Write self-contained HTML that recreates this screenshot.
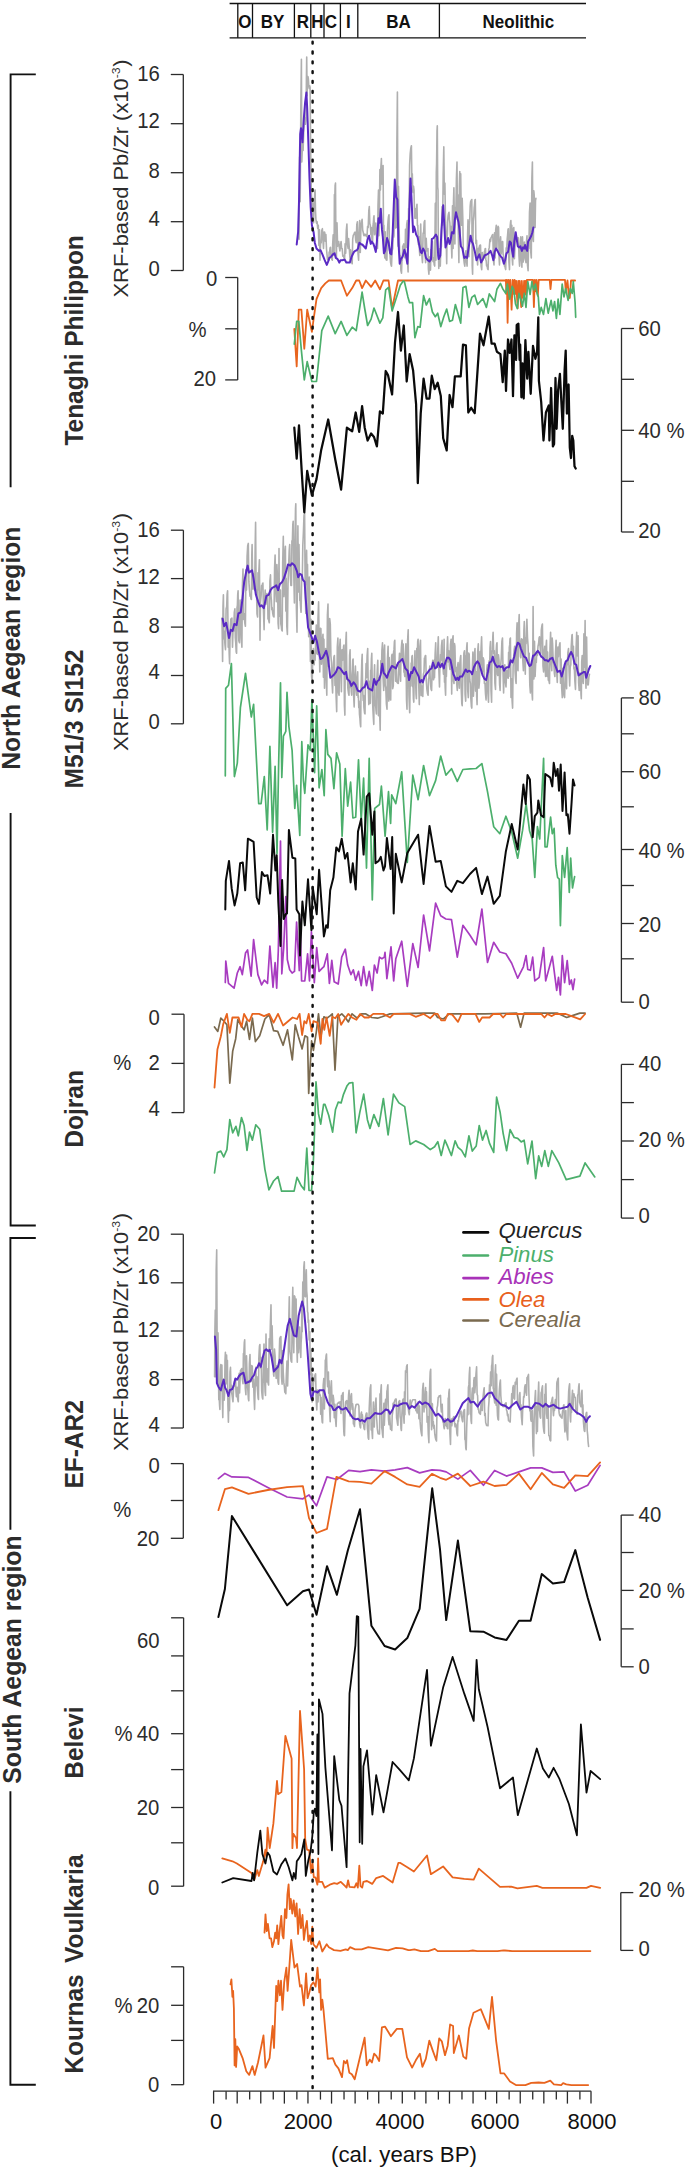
<!DOCTYPE html>
<html><head><meta charset="utf-8"><style>
html,body{margin:0;padding:0;background:#fff;}
svg{display:block;}
text{font-family:"Liberation Sans",sans-serif;}
</style></head><body>
<svg width="685" height="2169" viewBox="0 0 685 2169" font-family="Liberation Sans, sans-serif">
<rect width="685" height="2169" fill="#fff"/>
<polyline points="298.4,236.9 299.0,239.2 299.6,157.0 300.2,201.8 300.8,109.9 301.4,59.3 301.8,161.9 302.3,149.3 302.7,150.0 303.1,150.4 303.7,131.8 304.3,121.1 304.9,117.7 305.4,124.3 306.0,120.1 306.4,81.1 306.7,57.0 307.1,95.8 307.4,85.0 307.9,76.5 308.4,79.2 308.8,86.0 309.3,88.5 309.7,85.8 310.1,87.4 310.7,154.8 311.3,190.1 311.9,208.2 312.4,201.8 313.0,219.7 313.6,222.8 314.0,203.5 314.4,202.0 314.8,192.0 315.1,190.1 315.5,210.8 315.9,219.3 316.5,223.2 317.1,221.7 317.7,228.4 318.3,225.2 318.9,245.4 319.5,229.9 320.0,260.2 320.6,241.5 321.2,242.7 321.8,230.2 322.4,228.7 323.0,240.9 323.5,248.5 324.1,232.0 324.7,232.2 325.3,241.2 325.9,234.5 326.5,249.0 327.0,254.4 327.5,259.4 327.9,258.1 328.4,259.6 328.8,260.2 329.2,252.1 329.7,251.3 330.1,247.8 330.5,247.4 331.0,257.5 331.4,258.2 331.9,259.5 332.3,260.2 332.7,244.0 333.2,234.8 333.6,249.6 334.1,255.5 334.4,194.5 334.8,199.5 335.1,185.7 335.5,183.1 335.9,242.3 336.4,257.9 337.0,222.9 337.6,246.2 338.1,242.6 338.7,241.5 339.3,247.3 339.9,250.9 340.5,245.1 341.1,241.5 341.6,248.4 342.2,248.5 342.8,256.3 343.4,255.5 344.0,258.1 344.6,259.1 345.1,243.7 345.7,253.2 346.3,230.6 346.9,224.0 347.5,244.3 348.1,248.5 348.6,238.5 349.2,246.2 349.7,254.8 350.1,259.6 350.5,249.7 351.0,255.5 351.6,262.2 352.2,263.7 352.7,239.2 353.3,235.2 353.9,234.5 354.5,232.7 355.1,232.2 355.7,240.2 356.2,242.7 356.8,224.6 357.4,221.7 358.0,253.2 358.6,260.2 359.2,233.0 359.7,220.5 360.3,252.5 360.9,227.5 361.5,222.3 362.1,219.3 362.7,230.2 363.2,232.2 363.7,235.1 364.1,235.7 364.5,234.4 365.0,234.3 365.4,235.5 365.8,234.5 366.4,236.3 367.0,236.9 367.6,226.4 368.2,227.5 368.8,210.7 369.3,206.5 369.8,223.5 370.3,225.2 370.9,234.6 371.4,227.5 372.0,239.6 372.6,241.5 373.0,225.7 373.3,223.7 373.7,217.7 374.0,215.8 374.6,234.8 375.2,232.2 375.8,223.1 376.4,232.2 376.9,244.8 377.5,248.5 378.0,205.5 378.5,190.1 378.9,235.7 379.3,220.5 379.9,169.5 380.4,190.1 380.9,166.7 381.4,158.6 381.8,182.6 382.2,184.3 382.7,171.1 383.1,165.6 383.5,234.2 383.9,225.2 384.4,251.2 384.8,257.9 385.2,231.9 385.7,257.9 386.3,259.9 386.9,260.2 387.4,231.2 388.0,221.7 388.5,216.7 389.0,214.7 389.4,250.2 389.8,248.5 390.2,257.8 390.6,262.6 391.1,265.1 391.5,266.1 392.1,251.2 392.7,248.5 393.3,229.8 393.9,236.9 394.5,210.9 395.0,194.8 395.4,216.1 395.7,228.1 396.1,209.7 396.4,227.5 396.9,141.0 397.4,92.0 398.0,246.2 398.5,186.4 399.1,227.5 399.7,255.2 400.3,255.5 400.9,270.6 401.5,273.1 401.9,261.0 402.3,260.2 402.7,246.1 403.0,248.2 403.4,244.8 403.8,243.9 404.4,255.8 405.0,257.9 405.5,229.2 406.1,247.4 406.7,224.7 407.3,220.5 407.7,264.7 408.1,271.9 408.6,208.6 409.1,208.8 409.6,165.4 410.2,153.9 410.8,148.2 411.4,145.8 411.9,183.7 412.3,173.8 412.7,190.4 413.1,192.5 413.5,186.2 414.0,190.1 414.4,208.4 414.9,218.2 415.4,208.7 415.8,218.2 416.4,208.8 417.0,204.2 417.4,225.6 417.8,225.2 418.4,244.6 419.0,236.9 419.4,249.5 419.8,255.5 420.3,236.6 420.7,224.0 421.2,248.1 421.7,248.5 422.1,258.5 422.5,262.6 423.1,233.1 423.6,233.4 424.2,222.0 424.8,220.5 425.2,254.4 425.6,262.6 426.2,238.3 426.8,250.9 427.4,249.0 428.0,248.5 428.4,269.2 428.9,274.2 429.4,261.5 429.8,256.7 430.2,266.9 430.5,270.1 430.9,249.6 431.2,260.2 431.8,244.6 432.4,241.5 433.0,261.6 433.6,257.9 434.2,264.7 434.7,266.1 435.3,203.4 435.9,260.2 436.3,172.3 436.6,163.6 437.0,131.1 437.3,125.9 437.7,187.0 438.0,190.1 438.4,252.0 438.8,268.4 439.2,251.9 439.5,248.9 439.9,261.1 440.3,266.1 440.8,248.7 441.4,246.2 442.0,206.8 442.6,225.2 443.2,174.4 443.8,146.9 444.3,194.1 444.9,183.1 445.5,222.4 446.1,236.9 446.7,263.7 447.0,237.4 447.4,234.3 447.7,220.7 448.1,215.8 448.5,213.6 449.0,212.3 449.5,219.9 449.9,222.8 450.4,238.5 450.8,226.4 451.4,245.5 451.9,257.9 452.5,205.8 453.1,248.5 453.5,200.9 453.9,187.8 454.4,225.3 454.9,243.9 455.3,207.2 455.8,219.3 456.4,179.0 457.0,162.1 457.4,213.7 457.8,194.8 458.4,238.0 458.9,262.6 459.4,184.7 459.8,171.5 460.2,244.2 460.7,173.8 461.2,211.8 461.6,225.2 462.2,198.2 462.8,218.2 463.2,245.1 463.6,257.9 464.2,263.0 464.8,266.1 465.4,255.4 465.9,250.9 466.5,261.2 467.1,266.1 467.6,235.0 468.0,219.9 468.4,253.6 468.9,256.7 469.3,225.5 469.7,220.4 470.2,206.3 470.6,201.8 471.2,200.4 471.8,199.5 472.2,265.7 472.6,274.2 473.2,221.5 473.8,215.8 474.2,207.5 474.5,205.3 474.9,200.2 475.3,199.5 475.9,243.6 476.5,240.4 477.0,255.3 477.6,264.9 478.0,253.2 478.4,248.3 478.8,256.2 479.1,248.5 479.5,245.9 479.8,245.4 480.2,245.1 480.5,245.0 481.1,266.1 481.7,269.6 482.3,252.6 482.9,260.2 483.5,255.3 484.1,257.9 484.4,251.8 484.8,251.2 485.1,248.9 485.5,248.5 485.8,259.7 486.2,260.6 486.6,265.9 487.0,264.9 487.6,268.8 488.1,269.6 488.7,249.7 489.3,247.4 489.9,239.4 490.5,241.5 491.1,237.3 491.6,236.9 492.2,235.3 492.8,234.5 493.4,260.1 494.0,264.9 494.6,232.8 495.1,257.9 495.7,229.9 496.3,225.2 496.9,248.3 497.5,229.9 498.1,226.3 498.6,227.5 499.1,258.2 499.5,264.9 500.1,243.0 500.6,236.9 501.2,254.0 501.8,248.5 502.3,241.7 502.7,241.5 503.1,254.4 503.4,254.9 503.8,259.3 504.1,260.2 504.5,266.1 504.9,265.9 505.3,268.3 505.7,269.6 506.2,247.9 506.8,248.5 507.2,239.2 507.6,235.1 508.0,229.7 508.3,228.7 508.9,261.7 509.5,269.6 509.9,239.5 510.2,226.1 510.6,221.9 510.9,220.5 511.4,244.7 511.8,225.2 512.3,260.2 512.7,264.9 513.2,229.5 513.8,227.5 514.4,258.8 514.9,248.5 515.5,236.0 516.1,235.7 516.7,241.1 517.3,239.2 517.8,237.6 518.4,238.0 519.0,256.5 519.6,266.1 520.2,246.8 520.8,236.9 521.4,260.8 521.9,267.2 522.5,236.9 523.1,262.1 523.7,257.9 524.3,242.0 524.9,250.9 525.4,259.6 526.0,262.6 526.5,241.2 527.0,235.7 527.5,265.1 528.1,270.7 528.5,245.4 528.9,248.5 529.5,212.2 530.1,203.0 530.7,250.9 531.3,257.9 531.9,177.9 532.4,162.1 532.9,238.3 533.4,241.5 533.8,190.9 534.2,194.8 534.7,220.5 535.1,227.5 535.5,200.7 535.9,198.3" fill="none" stroke="#afafaf" stroke-width="1.6" stroke-linejoin="round" stroke-linecap="round"/>
<polyline points="222.0,618.1 222.6,661.4 223.0,606.9 223.4,594.8 223.9,638.8 224.3,631.0 224.9,644.0 225.5,649.7 226.1,609.0 226.7,606.5 227.1,594.4 227.6,590.7 228.2,647.2 228.8,636.8 229.2,653.8 229.6,663.7 230.2,629.0 230.8,619.3 231.4,618.5 231.9,618.1 232.5,647.3 233.1,628.0 233.7,631.0 234.3,612.5 234.9,608.8 235.3,637.6 235.7,642.2 236.2,652.1 236.6,653.2 237.0,607.9 237.4,605.2 237.7,594.9 238.1,590.7 238.5,628.0 238.8,640.6 239.2,642.0 239.5,642.7 240.1,600.1 240.7,613.5 241.3,638.3 241.9,647.3 242.4,586.0 243.0,569.1 243.6,619.5 244.2,613.5 244.8,623.1 245.4,626.3 245.9,569.7 246.5,590.1 247.1,556.4 247.7,545.7 248.3,543.4 248.9,581.9 249.5,590.1 250.0,596.2 250.6,595.9 251.0,599.0 251.4,599.5 251.8,555.0 252.1,544.6 252.5,571.9 252.8,589.0 253.2,573.5 253.5,578.4 254.1,588.7 254.7,590.1 255.2,544.2 255.6,522.4 256.1,588.8 256.5,590.1 257.0,613.8 257.6,617.0 258.0,572.7 258.4,590.1 258.9,570.6 259.4,559.7 260.0,640.3 260.5,602.2 261.1,595.9 261.6,585.5 262.0,586.5 262.4,584.2 262.9,583.1 263.5,612.1 264.1,629.8 264.6,600.7 265.2,590.1 265.8,604.2 266.4,601.8 267.0,593.6 267.6,595.9 268.0,619.1 268.4,618.4 268.9,621.4 269.3,622.8 269.9,581.2 270.5,574.9 270.9,594.9 271.4,600.5 271.8,609.7 272.2,607.6 272.7,613.2 273.1,615.2 273.5,616.5 274.0,617.0 274.6,567.6 275.1,555.1 275.7,589.4 276.3,601.8 276.9,564.5 277.5,578.4 278.1,623.1 278.6,628.6 279.0,548.6 279.4,615.2 279.7,589.8 280.1,616.5 280.4,590.1 280.8,623.9 281.3,626.3 281.7,630.0 282.2,631.0 282.7,562.9 283.3,536.4 283.9,596.6 284.5,590.1 284.9,551.8 285.4,546.3 285.8,611.1 286.2,578.4 286.8,626.1 287.4,634.5 288.0,584.0 288.6,566.8 289.2,550.6 289.7,544.6 290.3,575.4 290.9,585.4 291.5,585.4 291.9,540.8 292.4,540.4 292.8,524.7 293.2,521.2 293.8,575.1 294.4,603.0 294.8,553.6 295.1,533.9 295.5,509.1 295.8,503.7 296.4,608.6 297.0,632.2 297.5,563.1 297.9,525.9 298.3,574.5 298.6,592.0 299.0,544.5 299.3,566.8 299.8,600.4 300.2,600.1 300.7,608.5 301.1,612.3 301.7,578.0 302.3,578.4 302.8,545.8 303.4,532.7 304.0,515.4 304.6,513.0 305.2,592.1 305.8,613.5 306.2,573.2 306.6,550.4 307.1,584.5 307.5,564.4 308.1,609.3 308.7,636.8 309.3,577.1 309.9,613.5 310.4,661.6 311.0,619.3 311.6,676.6 312.2,683.5 312.8,653.7 313.4,648.5 313.8,660.0 314.2,664.8 314.7,653.5 315.1,660.2 315.7,638.7 316.3,625.1 316.9,653.4 317.4,654.3 318.0,618.5 318.6,601.8 319.2,646.6 319.8,671.9 320.4,628.3 320.9,628.6 321.5,664.2 322.1,654.3 322.6,637.8 323.0,634.2 323.4,677.2 323.9,639.2 324.5,688.2 325.0,658.0 325.6,648.5 326.2,678.6 326.8,695.2 327.4,615.4 328.0,604.1 328.5,666.4 329.1,660.2 329.7,618.5 330.3,624.0 330.9,655.8 331.5,662.5 332.0,681.3 332.6,692.9 333.1,669.9 333.5,662.7 333.9,657.0 334.4,655.5 335.0,685.5 335.5,671.9 336.1,696.5 336.7,711.6 337.3,646.7 337.9,638.0 338.5,692.7 339.1,695.2 339.6,647.3 340.2,639.2 340.8,672.9 341.4,691.7 342.0,649.7 342.6,660.2 342.9,651.5 343.3,650.8 343.6,646.3 344.0,645.0 344.4,705.2 344.9,715.1 345.2,661.7 345.6,654.0 345.9,639.8 346.3,632.2 346.9,679.2 347.5,677.7 347.8,687.6 348.2,691.1 348.6,693.8 349.0,695.2 349.6,655.2 350.1,649.7 350.5,687.5 350.9,680.7 351.3,691.6 351.7,695.2 352.0,674.6 352.4,669.5 352.7,660.4 353.1,659.0 353.6,695.3 354.2,706.9 354.8,677.0 355.4,666.0 356.0,687.6 356.6,695.2 357.2,678.3 357.7,671.9 358.1,697.6 358.4,695.7 358.8,707.6 359.1,701.1 359.5,714.4 359.9,718.0 360.3,723.8 360.7,726.8 361.0,689.6 361.4,676.5 361.8,660.9 362.2,654.3 362.5,679.8 362.9,694.7 363.2,700.4 363.6,695.2 363.9,706.8 364.3,710.7 364.6,713.2 365.0,713.9 365.4,682.6 365.7,678.1 366.1,663.5 366.5,677.7 367.1,655.8 367.7,648.5 368.2,685.1 368.8,704.6 369.2,687.7 369.5,681.3 369.9,697.8 370.3,703.4 370.6,670.2 371.0,673.0 371.4,658.9 371.8,653.2 372.4,696.3 372.9,709.2 373.4,718.4 373.8,724.4 374.2,675.6 374.6,664.9 375.0,705.5 375.5,703.4 376.0,710.3 376.4,713.9 376.8,680.4 377.1,674.0 377.5,665.5 377.8,660.2 378.4,715.6 379.0,677.7 379.6,710.9 380.2,730.3 380.8,660.7 381.4,671.9 381.9,650.6 382.5,642.7 383.1,678.5 383.7,690.5 384.2,650.2 384.6,645.0 385.2,685.2 385.8,688.2 386.4,704.0 387.0,709.2 387.5,658.4 388.1,646.2 388.5,683.7 388.8,701.1 389.2,657.6 389.5,695.2 390.1,698.5 390.7,699.9 391.0,673.3 391.4,661.2 391.7,656.0 392.1,654.3 392.7,688.7 393.3,685.9 393.6,652.0 394.0,649.9 394.4,641.7 394.8,640.3 395.2,671.9 395.6,681.2 396.2,664.5 396.8,681.2 397.1,682.5 397.5,682.6 397.9,683.3 398.3,683.5 398.9,664.1 399.5,653.2 400.0,671.2 400.6,681.2 401.0,656.0 401.4,647.6 401.8,642.4 402.1,640.3 402.5,654.3 402.8,659.3 403.2,644.1 403.5,654.3 403.9,672.2 404.2,668.7 404.6,675.5 404.9,676.5 405.4,656.1 405.9,643.8 406.5,699.6 407.0,709.2 407.6,640.8 408.2,629.8 408.6,673.6 409.0,696.2 409.4,706.3 409.7,712.7 410.3,673.7 410.9,685.9 411.2,663.1 411.6,665.5 411.9,656.8 412.3,655.5 412.7,686.4 413.1,687.6 413.4,699.0 413.8,702.2 414.4,664.3 415.0,650.8 415.3,673.2 415.7,682.9 416.0,694.2 416.4,698.7 416.8,648.4 417.3,655.0 417.7,641.6 418.1,639.2 418.7,683.6 419.3,704.6 419.9,646.6 420.5,640.3 421.1,695.6 421.6,685.9 422.2,693.9 422.8,696.4 423.4,674.2 424.0,671.9 424.4,658.1 424.9,657.3 425.3,655.7 425.7,655.5 426.3,681.2 426.9,689.4 427.5,693.5 428.1,695.2 428.5,679.3 428.9,677.7 429.4,670.3 429.8,666.0 430.3,680.1 430.7,685.5 431.1,689.3 431.6,690.5 432.2,668.0 432.7,660.2 433.2,676.0 433.6,679.8 434.1,660.2 434.5,677.7 435.1,654.6 435.7,642.7 436.0,662.5 436.4,666.4 436.8,667.0 437.2,667.2 437.8,648.9 438.3,636.8 438.9,670.9 439.5,687.0 439.9,665.5 440.2,664.3 440.6,654.5 440.9,660.2 441.5,645.9 442.1,640.3 442.4,663.2 442.8,661.1 443.1,669.1 443.5,674.2 444.1,639.2 444.5,682.3 444.8,673.2 445.2,687.9 445.6,695.2 446.0,667.1 446.4,676.5 447.0,649.9 447.6,636.8 448.2,661.9 448.8,650.8 449.3,665.0 449.9,669.5 450.5,644.5 451.1,639.2 451.7,694.1 452.0,644.4 452.4,647.5 452.7,638.1 453.1,635.7 453.5,681.3 454.0,683.5 454.5,643.6 454.9,646.2 455.5,671.4 456.1,667.2 456.7,683.5 457.3,690.5 457.7,665.4 458.1,662.5 458.7,679.8 459.3,688.2 459.6,667.5 460.0,661.5 460.4,657.7 460.8,655.5 461.1,686.1 461.5,695.3 461.8,703.6 462.2,705.7 462.8,678.4 463.4,667.2 463.9,653.3 464.5,650.8 465.1,694.4 465.7,701.1 466.0,656.1 466.4,655.0 466.7,647.2 467.1,642.7 467.7,689.9 468.3,697.6 468.7,653.1 469.2,654.3 469.8,680.0 470.4,683.5 470.7,696.5 471.1,702.1 471.4,706.6 471.8,708.1 472.4,665.9 472.9,652.0 473.4,696.2 473.9,684.7 474.5,654.2 475.0,648.5 475.6,691.1 476.2,671.9 476.7,697.2 477.1,704.6 477.7,651.9 478.3,643.8 478.9,688.2 479.5,681.2 480.1,651.6 480.6,669.5 481.1,647.6 481.6,636.8 482.1,658.2 482.6,671.9 483.2,657.9 483.8,660.2 484.4,683.5 485.0,683.5 485.5,693.9 486.1,699.9 486.7,670.1 487.3,664.9 487.9,693.5 488.5,702.2 489.1,660.8 489.6,671.9 490.0,647.9 490.5,641.5 491.0,690.3 491.6,702.2 492.0,651.9 492.4,649.9 492.8,637.2 493.1,632.2 493.7,653.8 494.3,650.8 494.9,683.2 495.5,689.4 495.9,660.9 496.2,650.9 496.6,644.5 497.0,642.7 497.4,674.3 497.8,675.4 498.4,654.7 499.0,660.2 499.6,684.4 500.1,690.5 500.7,665.5 501.3,657.8 501.9,641.5 502.5,638.0 503.1,675.1 503.6,692.9 504.2,668.9 504.8,664.9 505.4,682.0 506.0,687.0 506.4,676.9 506.7,670.1 507.1,677.1 507.5,671.9 507.9,676.7 508.2,678.3 508.6,652.2 508.9,676.5 509.3,647.4 509.7,644.9 510.0,638.9 510.4,638.0 511.0,697.4 511.6,678.9 512.1,700.7 512.6,708.1 513.1,667.5 513.6,659.0 514.2,649.5 514.7,646.2 515.1,672.0 515.4,676.3 515.8,681.1 516.1,683.5 516.6,633.1 517.1,622.8 517.5,667.7 518.0,670.7 518.6,626.2 519.2,614.6 519.6,639.5 520.0,644.7 520.4,656.4 520.8,657.8 521.2,642.3 521.5,638.7 521.9,647.2 522.2,639.2 522.8,660.5 523.4,670.7 523.9,630.3 524.3,621.6 524.8,658.0 525.3,674.2 525.7,637.5 526.1,643.8 526.5,629.0 526.9,619.3 527.5,637.6 528.1,646.2 528.7,665.3 529.2,653.2 529.8,685.0 530.4,692.9 531.0,664.4 531.6,671.9 532.1,694.4 532.5,699.9 533.1,606.5 533.5,664.1 533.9,678.9 534.5,641.4 535.1,676.5 535.7,662.8 536.3,662.5 536.8,651.7 537.4,655.5 538.0,646.2 538.6,643.8 539.1,637.7 539.5,636.8 539.9,644.6 540.2,647.6 540.6,651.8 540.9,653.2 541.3,630.4 541.7,627.1 542.1,624.8 542.4,624.0 543.0,666.2 543.6,671.9 544.2,651.6 544.8,646.2 545.2,668.6 545.6,676.5 546.1,645.9 546.5,640.3 546.9,664.8 547.2,676.5 547.6,652.0 547.9,662.5 548.3,680.3 548.7,678.0 549.1,681.7 549.5,683.5 550.0,648.6 550.6,632.2 551.2,661.9 551.8,670.7 552.2,638.0 552.6,643.8 553.2,661.2 553.8,663.7 554.4,673.6 554.9,676.5 555.5,653.3 556.1,640.3 556.7,672.2 557.3,682.4 557.9,647.0 558.4,656.7 558.8,650.1 559.2,647.7 559.6,644.2 560.0,642.7 560.5,683.2 561.1,659.0 561.7,688.0 562.3,697.6 562.9,668.2 563.5,689.4 564.1,696.0 564.6,697.6 565.2,674.1 565.8,662.5 566.2,681.5 566.6,688.7 566.9,662.1 567.3,664.9 567.9,652.7 568.5,648.5 569.1,671.2 569.7,685.9 570.2,667.1 570.8,664.9 571.2,647.4 571.5,642.2 571.9,635.7 572.2,634.5 572.8,653.0 573.4,646.2 573.9,669.1 574.3,667.2 574.9,681.4 575.5,689.4 576.1,649.1 576.7,632.2 577.0,651.7 577.4,656.0 577.7,638.9 578.1,635.7 578.6,682.4 579.2,690.5 579.6,678.9 579.9,673.0 580.3,689.9 580.6,674.2 581.0,694.4 581.3,698.7 581.7,661.9 582.2,655.5 582.7,677.5 583.3,683.5 583.9,633.9 584.5,667.2 585.1,620.5 585.5,675.6 586.0,688.2 586.6,637.1 587.2,681.2 587.8,684.9 588.3,684.7 588.9,677.2 589.5,674.2" fill="none" stroke="#afafaf" stroke-width="1.6" stroke-linejoin="round" stroke-linecap="round"/>
<polyline points="214.6,1376.7 214.9,1330.5 215.3,1310.0 215.7,1376.7 216.2,1269.4 216.7,1249.9 217.1,1339.5 217.6,1383.7 218.0,1332.9 218.4,1365.0 218.8,1399.8 219.2,1397.7 219.6,1405.8 219.9,1409.4 220.4,1369.6 220.8,1364.5 221.4,1391.0 221.9,1365.0 222.3,1399.5 222.8,1417.6 223.2,1387.2 223.7,1379.1 224.2,1400.3 224.6,1393.1 225.0,1360.4 225.4,1352.2 226.0,1384.0 226.6,1355.1 227.0,1376.3 227.4,1360.4 227.9,1404.8 228.4,1422.3 228.9,1398.0 229.5,1410.6 230.0,1372.0 230.5,1367.4 230.9,1386.0 231.3,1384.9 231.7,1392.8 232.1,1395.4 232.6,1399.4 233.0,1401.8 233.6,1387.4 234.2,1386.1 234.5,1381.3 234.9,1380.0 235.2,1379.3 235.6,1379.1 236.0,1391.7 236.4,1396.8 236.7,1388.5 237.1,1387.2 237.7,1399.2 238.3,1401.8 238.7,1382.5 239.2,1373.2 239.6,1392.9 240.0,1381.4 240.5,1370.4 240.9,1370.1 241.4,1369.1 241.8,1368.5 242.4,1379.1 243.0,1383.7 243.4,1353.5 243.8,1355.0 244.3,1342.5 244.7,1339.9 245.3,1388.3 245.9,1394.8 246.5,1355.7 247.0,1374.4 247.5,1386.5 247.9,1390.4 248.4,1399.1 248.8,1400.7 249.4,1363.8 250.0,1354.5 250.5,1381.9 251.1,1381.4 251.7,1365.6 252.3,1366.2 252.9,1387.3 253.5,1379.1 254.1,1398.8 254.6,1409.4 255.2,1384.2 255.8,1367.4 256.4,1385.8 257.0,1376.7 257.4,1388.7 257.7,1392.8 258.1,1398.0 258.5,1399.5 258.8,1359.0 259.2,1350.8 259.5,1345.9 259.9,1344.6 260.2,1360.7 260.6,1367.9 260.9,1357.2 261.3,1367.4 261.7,1391.0 262.1,1395.4 262.4,1398.0 262.8,1398.9 263.4,1362.6 264.0,1344.0 264.4,1382.3 264.7,1381.8 265.1,1391.8 265.5,1395.4 266.0,1334.1 266.5,1381.9 267.1,1368.5 267.5,1379.8 267.9,1382.4 268.3,1383.9 268.6,1384.9 269.2,1338.7 269.8,1349.9 270.4,1322.2 271.0,1304.9 271.4,1339.8 271.7,1349.4 272.1,1325.9 272.5,1343.5 272.9,1362.3 273.2,1366.7 273.6,1374.6 273.9,1376.2 274.5,1349.1 275.1,1356.3 275.7,1370.9 276.2,1378.5 276.8,1365.8 277.4,1366.8 278.0,1382.0 278.6,1384.3 279.2,1356.1 279.7,1338.8 280.3,1337.1 280.9,1336.5 281.5,1376.9 282.1,1384.3 282.7,1350.6 283.2,1371.5 283.8,1382.4 284.4,1386.7 284.8,1392.1 285.1,1391.0 285.5,1393.0 285.8,1393.7 286.4,1373.5 287.0,1361.0 287.6,1386.0 288.2,1364.5 288.8,1318.6 289.3,1296.8 289.9,1350.9 290.5,1355.1 291.1,1361.2 291.7,1362.2 292.3,1309.7 292.8,1287.4 293.3,1335.4 293.8,1352.8 294.4,1295.8 294.9,1296.8 295.5,1334.5 296.1,1299.1 296.7,1341.9 297.3,1362.2 297.9,1320.7 298.5,1352.8 299.0,1335.0 299.6,1327.1 300.2,1347.8 300.8,1357.5 301.1,1342.6 301.5,1337.3 301.8,1309.1 302.2,1331.8 302.8,1282.0 303.4,1308.4 303.8,1267.6 304.3,1261.7 304.9,1296.2 305.5,1296.8 305.9,1279.7 306.3,1269.8 306.7,1291.1 307.1,1295.6 307.5,1311.5 307.9,1313.0 308.2,1322.5 308.6,1320.1 309.2,1339.9 309.8,1331.8 310.2,1363.3 310.5,1374.8 310.9,1351.1 311.3,1366.8 311.7,1397.9 312.1,1401.9 312.5,1374.1 312.9,1396.0 313.5,1382.1 314.1,1380.8 314.5,1377.4 314.9,1376.1 315.2,1374.3 315.6,1373.8 316.2,1400.2 316.8,1410.0 317.4,1390.0 318.0,1401.9 318.5,1391.6 319.1,1390.2 319.7,1395.4 320.3,1394.9 320.7,1414.3 321.1,1397.2 321.5,1411.5 321.9,1418.3 322.2,1422.1 322.6,1422.9 323.2,1385.3 323.8,1378.5 324.4,1408.9 325.0,1384.3 325.3,1360.1 325.7,1360.6 326.1,1355.6 326.5,1354.0 327.1,1376.8 327.6,1386.7 328.0,1377.7 328.4,1372.1 328.7,1393.2 329.1,1380.8 329.6,1409.8 330.2,1421.7 330.8,1387.6 331.4,1380.8 332.0,1399.7 332.6,1404.2 333.1,1395.2 333.7,1399.5 334.3,1417.8 334.9,1404.2 335.5,1419.2 336.1,1426.4 336.6,1412.4 337.2,1404.2 337.7,1403.4 338.1,1403.2 338.5,1402.4 339.0,1403.0 339.6,1402.1 340.1,1401.9 340.6,1410.0 341.0,1413.5 341.5,1395.5 342.1,1399.5 342.6,1393.5 343.1,1392.5 343.4,1418.6 343.8,1431.3 344.1,1435.1 344.5,1435.7 345.1,1409.4 345.6,1401.9 346.2,1401.1 346.8,1400.7 347.4,1405.8 348.0,1408.9 348.6,1394.9 349.1,1390.2 349.6,1411.1 350.1,1415.9 350.4,1396.4 350.8,1397.9 351.1,1394.5 351.5,1393.7 351.9,1407.0 352.2,1409.4 352.6,1403.9 353.0,1407.7 353.4,1423.9 353.8,1421.2 354.1,1425.1 354.5,1426.4 355.1,1409.4 355.7,1406.5 356.0,1404.5 356.4,1404.7 356.7,1404.3 357.1,1404.2 357.7,1404.2 358.2,1404.2 358.9,1406.0 359.3,1419.1 359.7,1424.7 360.2,1427.3 360.6,1427.9 361.0,1414.0 361.5,1412.1 361.9,1416.9 362.4,1414.7 362.9,1423.6 363.5,1424.2 364.1,1428.7 364.6,1429.6 365.2,1419.7 365.8,1415.4 366.3,1413.3 366.9,1413.0 367.4,1428.3 367.8,1431.1 368.2,1438.0 368.7,1439.2 369.2,1408.8 369.7,1397.4 370.2,1388.1 370.8,1384.9 371.2,1429.9 371.6,1423.3 372.1,1433.3 372.5,1438.4 373.0,1413.7 373.4,1402.0 373.8,1426.5 374.3,1427.0 374.7,1409.9 375.1,1407.9 375.6,1401.9 376.0,1398.1 376.5,1416.8 376.9,1421.7 377.3,1428.9 377.8,1432.2 378.2,1433.7 378.7,1433.4 379.1,1433.9 379.5,1434.0 380.0,1393.7 380.4,1402.3 380.8,1391.0 381.3,1384.9 381.7,1427.7 382.2,1430.4 382.6,1434.9 383.0,1437.5 383.5,1411.5 383.9,1403.2 384.3,1425.2 384.8,1413.0 385.2,1403.2 385.7,1399.2 386.1,1409.9 386.5,1404.2 386.9,1390.7 387.2,1390.4 387.6,1386.2 387.9,1384.9 388.5,1419.4 389.0,1424.8 389.5,1412.5 390.0,1420.0 390.5,1429.1 390.9,1427.9 391.4,1429.9 391.8,1430.5 392.2,1415.4 392.7,1412.3 393.1,1403.4 393.5,1407.7 394.2,1402.2 394.9,1400.3 395.5,1399.1 396.2,1399.0 396.6,1418.1 397.0,1419.9 397.5,1423.7 397.9,1425.2 398.4,1405.1 398.8,1401.8 399.2,1401.0 399.7,1400.7 400.1,1416.3 400.6,1419.5 401.0,1428.5 401.4,1430.5 401.9,1414.2 402.3,1407.1 402.7,1400.2 403.2,1399.0 403.6,1415.3 404.1,1423.2 404.5,1391.7 404.9,1414.7 405.5,1370.8 406.1,1372.2 406.6,1366.4 407.2,1364.8 407.7,1403.4 408.3,1408.4 408.8,1412.8 409.3,1414.7 409.7,1406.0 410.2,1400.1 410.6,1405.6 411.1,1406.0 411.5,1402.7 411.9,1401.7 412.4,1400.2 412.8,1399.8 413.5,1399.8 414.1,1399.8 414.8,1399.8 415.4,1399.8 415.9,1410.6 416.3,1408.5 416.8,1411.3 417.2,1413.0 417.8,1405.6 418.3,1401.9 418.9,1418.8 419.5,1406.0 420.1,1421.4 420.7,1429.0 421.3,1433.1 421.9,1435.7 422.3,1400.5 422.6,1389.5 423.0,1385.5 423.3,1383.2 423.7,1403.6 424.0,1412.0 424.4,1400.4 424.7,1406.0 425.2,1391.7 425.6,1387.6 426.0,1407.8 426.5,1391.9 427.1,1422.3 427.7,1416.5 428.3,1434.3 428.9,1442.8 429.4,1398.2 429.8,1381.4 430.2,1371.8 430.7,1369.2 431.1,1414.1 431.6,1429.7 432.0,1403.5 432.4,1404.2 432.9,1425.7 433.3,1421.6 433.7,1428.3 434.2,1425.2 434.8,1434.2 435.3,1437.5 435.9,1439.7 436.5,1441.0 437.0,1408.1 437.6,1405.6 438.2,1397.5 438.7,1397.2 439.2,1395.8 439.6,1396.0 440.1,1395.6 440.5,1395.4 440.9,1406.7 441.4,1412.0 441.8,1405.5 442.2,1404.2 442.8,1421.9 443.3,1420.0 443.8,1426.7 444.3,1428.7 444.8,1421.5 445.2,1418.5 445.7,1425.2 446.1,1421.7 446.5,1426.3 447.0,1426.5 447.4,1428.5 447.9,1428.7 448.2,1398.0 448.6,1398.0 448.9,1392.1 449.3,1389.3 449.9,1433.2 450.5,1444.5 450.9,1422.3 451.4,1419.0 451.8,1425.8 452.2,1421.7 452.7,1418.2 453.1,1418.6 453.5,1417.1 454.0,1416.5 454.6,1423.4 455.1,1426.8 455.7,1423.8 456.3,1425.2 456.9,1433.7 457.5,1435.7 457.9,1420.5 458.4,1421.5 458.8,1417.7 459.2,1416.5 459.7,1412.8 460.1,1412.8 460.6,1411.4 461.0,1411.2 461.4,1416.7 461.9,1418.2 462.3,1420.5 462.7,1421.7 463.2,1412.6 463.6,1411.4 464.1,1410.0 464.5,1409.5 464.9,1439.4 465.4,1440.3 465.8,1448.3 466.2,1449.8 466.7,1427.6 467.1,1416.8 467.6,1403.9 468.0,1414.7 468.4,1387.5 468.9,1384.9 469.3,1374.2 469.8,1367.4 470.2,1413.9 470.6,1407.7 471.1,1420.9 471.5,1423.5 471.9,1394.6 472.4,1388.0 472.8,1399.6 473.3,1399.0 473.8,1380.6 474.3,1377.5 474.8,1392.8 475.3,1385.8 476.0,1373.9 476.6,1366.8 477.1,1394.3 477.6,1395.6 478.1,1409.3 478.5,1408.6 479.0,1412.5 479.5,1413.2 480.0,1413.9 480.4,1414.3 480.9,1406.1 481.4,1401.4 481.9,1408.8 482.3,1410.5 482.8,1399.3 483.3,1394.9 483.8,1389.9 484.2,1387.7 484.7,1415.6 485.2,1413.4 485.7,1422.8 486.1,1423.8 486.6,1425.4 487.1,1425.4 487.6,1425.6 488.0,1425.7 488.5,1407.7 489.0,1401.5 489.5,1384.8 489.9,1397.2 490.6,1372.0 491.3,1385.8 491.6,1366.0 492.0,1364.3 492.4,1356.9 492.8,1355.4 493.2,1388.2 493.7,1389.8 494.2,1398.7 494.7,1402.9 495.1,1372.7 495.6,1364.8 496.1,1405.3 496.6,1374.4 497.0,1403.2 497.5,1415.4 498.0,1419.3 498.5,1420.0 498.9,1399.5 499.4,1389.3 499.9,1383.1 500.4,1380.1 500.8,1395.5 501.3,1401.2 501.8,1405.2 502.3,1404.8 502.7,1406.4 503.2,1406.3 503.7,1406.6 504.2,1406.7 504.6,1404.4 505.1,1404.2 505.6,1403.1 506.1,1402.9 506.5,1409.9 507.0,1411.3 507.5,1415.6 508.0,1414.3 508.5,1420.8 509.1,1420.9 509.7,1421.7 510.2,1421.9 510.7,1408.5 511.2,1406.9 511.7,1393.7 512.1,1404.8 512.8,1387.6 513.4,1385.5 514.0,1398.3 514.6,1399.1 515.2,1382.2 515.8,1384.0 516.5,1379.3 517.1,1378.2 517.5,1402.1 518.0,1402.8 518.5,1405.7 519.0,1406.7 519.4,1395.2 519.9,1392.6 520.4,1409.0 520.9,1404.8 521.5,1417.7 522.2,1424.7 522.7,1408.9 523.1,1407.7 523.6,1396.6 524.1,1397.2 524.7,1387.3 525.3,1384.7 525.9,1391.8 526.6,1395.3 527.0,1377.6 527.5,1378.8 528.0,1376.0 528.5,1374.4 528.9,1394.0 529.4,1405.7 529.9,1410.9 530.4,1408.6 530.8,1419.8 531.3,1421.3 531.8,1412.9 532.3,1410.5 532.9,1446.3 533.6,1456.0 534.1,1420.7 534.5,1409.5 535.0,1398.0 535.5,1390.6 536.0,1416.9 536.4,1433.6 536.9,1406.7 537.4,1431.4 538.0,1399.6 538.7,1382.0 539.2,1409.2 539.7,1411.6 540.1,1416.8 540.6,1418.1 541.1,1392.6 541.6,1391.7 542.0,1388.1 542.5,1385.8 543.0,1421.4 543.4,1427.5 543.9,1431.6 544.4,1433.3 544.8,1394.4 545.2,1402.0 545.5,1386.7 545.9,1383.9 546.5,1413.7 547.1,1418.3 547.6,1406.4 548.2,1408.6 548.8,1435.6 549.4,1435.7 550.0,1440.2 550.7,1440.8 551.1,1402.9 551.6,1402.0 552.1,1399.0 552.6,1397.2 553.0,1409.4 553.5,1415.6 554.0,1408.8 554.5,1410.5 554.9,1403.8 555.4,1399.5 555.9,1408.1 556.4,1404.8 556.8,1382.9 557.3,1381.3 557.8,1378.9 558.3,1378.2 558.7,1408.6 559.2,1413.4 559.7,1415.7 560.1,1414.3 560.6,1416.6 561.1,1417.1 561.6,1417.7 562.0,1418.1 562.5,1411.6 563.0,1409.9 563.5,1405.7 563.9,1404.8 564.4,1422.8 564.9,1432.0 565.4,1414.8 565.8,1410.5 566.3,1429.6 566.8,1431.6 567.3,1436.6 567.7,1439.9 568.2,1404.3 568.7,1391.1 569.2,1386.2 569.6,1383.9 570.1,1415.0 570.6,1422.0 571.1,1403.2 571.5,1412.4 572.0,1397.0 572.5,1390.3 573.0,1408.3 573.4,1397.2 573.9,1393.7 574.4,1397.2 574.9,1397.2 575.3,1397.2 575.8,1410.0 576.3,1411.5 576.8,1413.2 577.2,1414.3 577.7,1395.1 578.2,1394.0 578.7,1386.6 579.1,1383.9 579.6,1402.4 580.1,1403.7 580.6,1405.8 581.0,1406.7 581.5,1393.4 582.0,1390.3 582.5,1413.1 582.9,1404.8 583.4,1421.1 583.9,1427.3 584.3,1430.8 584.8,1431.4 585.3,1421.0 585.8,1416.6 586.2,1413.0 586.7,1412.4 587.2,1430.6 587.7,1435.1 588.1,1442.0 588.6,1446.5" fill="none" stroke="#afafaf" stroke-width="1.6" stroke-linejoin="round" stroke-linecap="round"/>
<polyline points="296.7,244.5 298.1,232.2 299.0,201.8 300.2,134.1 301.0,128.2 301.7,134.1 302.5,142.3 303.7,120.1 305.1,102.6 306.4,92.6 307.2,108.4 308.4,143.4 309.5,178.5 310.7,207.7 311.9,225.2 313.6,232.2 314.8,242.7 316.5,248.5 318.9,250.9 320.6,250.3 322.4,254.4 324.7,260.2 326.8,264.9 328.2,261.4 329.4,257.9 331.1,256.7 332.9,254.4 334.6,253.2 335.8,257.9 337.6,259.1 339.3,262.6 340.5,260.2 342.2,260.2 344.6,259.6 346.3,262.6 349.8,262.6 351.6,256.7 353.9,252.0 355.1,250.9 356.8,250.3 358.0,248.5 359.4,242.7 361.5,244.5 362.3,244.5 365.8,248.5 367.6,239.2 369.1,235.7 370.7,243.9 371.7,241.5 373.4,243.9 374.6,247.4 375.8,252.0 376.9,241.5 378.5,218.2 379.6,222.8 380.8,208.8 382.0,229.9 382.8,236.9 383.9,253.2 385.1,250.9 387.1,238.0 388.6,242.7 390.1,253.2 391.3,254.4 392.7,232.2 393.9,201.8 394.8,179.6 396.2,197.2 397.4,199.5 398.5,242.7 399.7,263.7 400.9,259.1 402.6,256.7 404.4,249.7 405.8,254.4 407.3,263.7 408.5,236.9 409.6,201.8 410.5,178.5 411.4,196.0 412.3,215.8 413.1,232.2 414.0,226.4 415.1,229.9 416.1,234.5 417.5,236.9 419.0,243.9 420.7,252.0 421.7,253.2 423.1,248.5 424.5,250.9 426.0,257.9 427.7,260.2 429.5,261.4 431.0,259.1 431.8,239.2 433.6,238.0 435.9,234.5 437.1,236.9 438.2,255.5 438.7,259.1 440.3,255.5 441.4,231.0 443.2,205.3 444.3,225.2 445.5,247.4 446.7,243.9 448.1,238.0 449.6,243.9 450.8,239.2 451.9,232.2 453.7,233.4 454.9,219.3 456.0,212.3 457.2,217.0 458.4,221.7 459.5,229.9 460.9,246.2 462.4,248.5 464.2,257.9 465.6,256.7 467.1,257.9 468.9,246.2 470.6,235.7 471.8,241.5 473.0,243.9 474.7,250.9 476.5,260.2 478.2,256.7 479.4,254.4 481.1,262.6 482.9,259.1 484.6,255.5 487.0,254.4 488.7,253.2 490.5,250.9 492.2,255.5 493.4,260.2 494.6,252.0 496.0,248.5 497.5,250.9 499.2,254.4 501.0,256.7 502.2,257.9 503.9,263.7 505.1,260.2 506.5,253.2 508.0,252.0 509.7,241.5 510.9,242.7 512.1,250.9 513.2,256.7 514.3,241.5 515.7,232.2 516.7,239.2 517.8,246.2 519.0,247.4 520.4,246.2 521.9,250.9 523.1,247.4 524.3,248.5 525.1,245.0 526.0,248.5 527.2,250.9 528.1,241.5 529.5,239.2 531.3,235.7 532.4,232.2 533.4,227.5" fill="none" stroke="#5a2ac4" stroke-width="2.0" stroke-linejoin="round" stroke-linecap="round"/>
<polyline points="222.6,618.7 224.1,626.3 226.1,622.8 227.3,628.6 229.0,638.0 230.8,629.8 232.5,631.0 234.3,624.0 236.6,625.1 238.4,613.5 240.7,612.3 242.4,599.5 244.2,581.9 246.5,570.3 247.7,565.6 248.9,572.6 250.6,571.4 252.1,570.3 253.5,578.4 255.9,594.8 258.2,601.8 260.0,606.5 261.7,605.3 263.8,608.2 266.4,595.9 268.7,594.8 270.5,590.1 272.2,587.8 274.6,586.6 276.3,585.4 278.1,590.1 279.8,584.3 282.2,581.9 283.9,578.4 286.2,571.4 288.0,564.4 290.3,565.6 292.1,563.2 294.7,565.6 297.0,571.4 298.2,577.3 299.9,573.8 301.7,574.9 302.8,579.6 304.6,581.9 305.8,599.5 306.9,613.5 308.1,627.5 309.9,632.2 311.6,636.8 313.4,642.7 315.1,635.7 316.9,641.5 318.6,650.8 320.4,659.0 322.7,657.8 324.5,654.3 326.2,650.8 328.0,657.8 330.3,677.7 332.0,676.5 334.4,674.2 336.1,671.9 337.9,667.2 340.2,668.4 342.6,671.9 344.3,674.2 346.1,671.9 347.2,678.9 349.6,681.2 351.3,685.9 353.6,682.4 355.4,684.7 357.7,690.5 360.1,691.7 362.4,688.2 364.7,687.0 366.5,681.2 368.2,688.2 370.3,689.4 372.2,690.5 374.1,678.9 376.1,684.7 377.3,681.2 379.0,680.0 380.8,674.2 382.3,663.7 383.7,673.0 384.9,674.2 387.0,677.7 388.4,673.0 390.1,669.5 391.9,666.0 394.2,667.2 395.9,668.4 398.3,662.5 400.0,661.4 402.4,659.0 403.5,662.5 405.3,668.4 407.6,670.7 409.1,680.0 411.1,671.9 412.3,673.0 414.1,667.2 416.4,671.9 418.7,676.5 419.9,682.4 421.6,680.0 422.8,682.4 424.6,676.5 426.3,674.2 428.1,671.9 429.8,669.5 431.6,668.4 433.0,662.5 435.1,668.4 436.8,667.2 438.3,662.5 440.3,667.2 442.1,663.7 443.8,668.4 445.3,662.5 447.0,657.8 448.8,657.8 450.5,660.2 451.7,666.0 453.4,674.2 454.6,676.5 455.8,680.0 457.5,677.7 458.7,680.0 459.9,676.5 462.2,676.5 463.9,673.0 465.7,669.5 467.4,671.9 469.2,670.7 470.9,671.9 472.1,674.2 473.9,667.2 475.6,663.7 477.4,661.4 479.1,663.7 480.9,669.5 482.6,675.4 484.4,678.9 486.1,680.0 487.9,671.9 489.6,662.5 491.4,661.4 492.8,656.7 494.3,662.5 495.5,664.9 497.2,667.2 499.0,666.0 500.7,667.2 502.5,666.0 504.0,670.7 505.4,668.4 507.2,667.2 508.9,667.2 510.7,660.2 512.4,662.5 514.2,656.7 515.9,648.5 517.7,642.7 519.4,643.8 520.8,648.5 522.6,653.2 524.1,656.7 526.1,657.8 527.8,662.5 529.6,666.0 531.1,664.9 533.1,655.5 534.3,655.5 536.0,653.2 537.8,650.8 539.5,653.2 541.3,656.7 543.0,657.8 544.8,660.2 546.5,660.2 548.3,661.4 550.0,659.0 552.4,657.8 554.1,662.5 555.9,667.2 557.6,671.9 560.0,670.7 561.7,676.5 562.9,671.9 564.6,664.9 565.8,661.4 567.6,660.2 569.3,655.5 571.1,652.0 572.8,655.5 574.6,663.7 576.3,664.9 577.5,670.7 578.6,675.4 580.4,674.2 582.2,673.0 583.9,671.9 585.1,671.9 586.2,677.7 587.4,674.2 588.8,669.5 590.3,666.0" fill="none" stroke="#5a2ac4" stroke-width="2.0" stroke-linejoin="round" stroke-linecap="round"/>
<polyline points="214.9,1336.5 216.1,1349.3 216.9,1383.2 218.4,1386.7 220.8,1390.2 222.3,1384.3 223.7,1379.7 225.1,1387.8 226.6,1390.2 228.4,1396.0 229.8,1390.2 232.4,1389.0 234.0,1384.3 235.4,1378.5 237.1,1379.7 238.9,1376.2 241.2,1373.8 243.5,1372.7 245.6,1383.2 248.2,1382.0 250.5,1380.8 252.3,1377.3 254.1,1375.0 255.8,1369.2 257.6,1366.8 259.0,1363.3 260.8,1366.8 262.5,1358.6 264.6,1350.5 266.3,1349.3 268.1,1351.1 269.8,1349.9 271.6,1357.5 273.9,1371.5 275.7,1369.2 278.0,1366.8 279.7,1359.8 281.5,1363.3 283.2,1355.1 285.3,1341.1 287.6,1325.9 289.9,1318.9 291.7,1327.1 293.8,1335.3 296.4,1336.5 298.7,1315.4 300.4,1308.4 302.2,1301.4 303.9,1308.4 305.7,1328.3 307.4,1349.3 309.0,1372.7 310.4,1393.7 311.8,1399.5 313.6,1391.4 315.6,1391.4 317.6,1392.5 319.7,1390.2 321.8,1390.2 323.8,1390.2 325.5,1396.0 327.6,1401.9 329.6,1405.4 331.4,1405.4 333.5,1410.0 335.1,1410.0 337.2,1407.7 339.0,1406.5 340.7,1408.9 342.5,1409.5 344.2,1408.9 346.0,1407.7 348.3,1411.2 350.7,1414.7 353.0,1418.2 355.7,1419.4 358.0,1418.8 360.3,1420.9 362.0,1420.0 364.6,1421.7 366.9,1418.2 369.9,1418.2 372.5,1415.6 375.1,1413.0 377.8,1413.8 381.3,1413.8 383.0,1412.1 385.7,1409.5 388.3,1410.3 390.0,1413.8 392.7,1409.5 394.4,1405.1 397.9,1406.0 400.6,1404.2 403.2,1403.3 406.7,1403.3 409.3,1408.6 411.9,1406.0 414.6,1407.7 417.2,1404.2 419.5,1401.6 422.4,1404.2 425.1,1402.5 428.6,1404.2 432.1,1409.5 435.6,1415.6 438.2,1413.8 441.7,1417.3 444.3,1421.7 447.9,1419.1 450.5,1421.7 453.1,1420.9 456.6,1415.6 460.1,1408.6 462.7,1403.3 465.4,1400.7 468.5,1398.1 470.6,1402.5 473.3,1401.6 473.8,1401.9 477.6,1406.7 480.4,1401.9 484.2,1398.1 488.0,1393.4 491.8,1392.5 494.7,1398.1 498.5,1401.9 501.3,1404.8 505.1,1405.7 508.9,1408.6 512.7,1404.8 516.5,1401.9 520.3,1409.5 524.1,1406.7 527.9,1406.7 531.7,1408.6 535.5,1402.9 539.3,1403.8 543.1,1406.7 545.5,1403.8 548.8,1406.7 553.5,1404.8 557.3,1407.6 560.1,1408.6 563.9,1407.6 567.7,1406.7 569.6,1403.8 572.5,1408.6 576.3,1412.4 580.1,1414.3 583.9,1417.1 586.2,1421.9 588.0,1418.1 589.9,1416.2" fill="none" stroke="#5a2ac4" stroke-width="2.0" stroke-linejoin="round" stroke-linecap="round"/>
<polyline points="225.3,775.8 225.7,688.4 228.5,685.2 231.4,663.7 234.4,776.6 237.3,763.1 240.4,707.5 245.5,673.3 251.3,717.0 253.6,704.3 258.7,803.7 261.1,803.7 264.3,776.6 267.2,829.9 269.9,746.4 272.6,832.3 275.1,766.3 277.0,853.8 278.6,766.3 280.5,682.8 281.8,777.4 283.4,736.1 285.8,731.3 287.0,692.4 288.9,726.6 292.1,750.4 294.8,808.4 296.6,785.4 299.8,835.5 301.8,741.7 303.4,780.6 304.8,793.3 308.0,744.8 310.3,750.4 311.9,699.5 314.6,772.7 316.7,705.9 319.1,787.8 321.9,769.5 324.2,795.7 325.9,729.7 327.8,754.4 331.0,758.4 333.9,788.6 336.6,752.8 339.8,763.9 342.1,836.3 345.3,768.7 347.7,806.1 350.6,782.2 352.9,818.0 355.7,817.2 358.5,759.9 361.2,820.4 363.6,778.2 366.5,868.1 369.2,758.4 372.3,899.9 374.7,808.4 379.5,804.5 381.4,786.2 385.1,836.3 388.5,791.7 390.6,823.5 391.7,794.9 395.8,803.7 401.7,771.9 407.3,862.5 412.8,775.1 418.1,799.7 423.6,765.5 429.5,795.7 435.6,780.6 440.7,756.0 445.9,775.1 451.5,768.7 457.3,781.4 462.9,769.5 470.0,768.9 476.1,768.5 481.9,763.6 487.5,791.7 493.7,826.7 499.8,833.7 505.9,816.2 511.7,831.9 517.7,858.2 522.6,830.2 526.1,803.9 529.6,831.1 532.2,839.0 534.8,877.5 537.4,826.7 539.7,839.0 541.5,802.2 543.6,758.4 545.0,846.8 547.1,846.8 550.6,817.1 552.3,833.7 554.1,828.4 555.8,865.2 557.6,877.5 559.3,879.2 560.4,925.7 562.3,855.6 564.6,877.5 567.2,847.7 569.3,892.4 570.7,858.2 572.5,888.0 574.6,876.6" fill="none" stroke="#4caf6c" stroke-width="1.7" stroke-linejoin="round" stroke-linecap="round"/>
<polyline points="214.5,1173.0 217.4,1152.6 220.8,1151.1 223.7,1156.9 226.9,1149.6 229.8,1119.7 232.7,1132.8 235.9,1126.3 238.3,1135.8 241.5,1117.5 244.1,1125.5 247.0,1150.4 249.5,1132.1 252.4,1140.1 255.8,1124.8 259.7,1129.2 264.9,1169.3 268.9,1189.8 273.6,1181.0 278.0,1176.6 281.6,1191.2 294.1,1191.2 297.0,1177.4 301.4,1186.1 304.3,1189.8 306.8,1148.2 309.0,1190.5 311.6,1190.5 313.4,1160.6 314.5,1131.4 316.0,1081.8 318.5,1113.9 320.7,1124.1 323.6,1104.4 325.0,1104.4 328.7,1115.3 332.6,1132.1 335.5,1109.5 338.2,1102.2 341.1,1102.9 343.3,1094.9 346.9,1086.1 349.1,1083.2 352.8,1082.5 356.1,1132.8 359.8,1112.4 363.7,1094.2 367.4,1119.7 370.0,1128.5 373.9,1114.6 378.8,1126.3 383.4,1098.5 388.1,1135.0 393.5,1094.2 398.9,1102.9 404.7,1106.6 410.1,1144.5 415.7,1140.9 423.7,1144.5 430.3,1149.6 434.6,1146.7 437.8,1141.6 441.2,1155.5 444.9,1140.1 447.8,1146.7 451.4,1155.5 455.1,1140.9 458.0,1147.4 461.6,1150.4 465.3,1156.9 468.9,1135.8 472.3,1151.1 476.2,1146.0 479.2,1125.5 482.5,1140.1 486.1,1130.5 489.6,1143.7 493.7,1152.4 496.6,1097.2 500.1,1112.1 503.1,1133.1 506.6,1150.7 510.1,1129.6 514.2,1137.5 517.7,1138.4 521.2,1141.9 524.1,1140.2 527.7,1163.8 532.0,1141.0 535.7,1178.7 538.7,1155.9 541.7,1166.4 544.8,1150.7 548.3,1166.4 551.8,1150.7 558.8,1162.9 566.2,1179.6 579.9,1176.1 585.1,1162.9 594.8,1176.9" fill="none" stroke="#4caf6c" stroke-width="1.7" stroke-linejoin="round" stroke-linecap="round"/>
<polyline points="225.3,982.6 225.8,961.1 228.5,983.4 234.1,988.1 237.3,973.0 240.1,966.7 242.3,974.6 245.5,953.1 247.6,950.0 251.1,976.2 253.6,939.6 257.9,974.6 261.6,984.9 264.3,980.2 267.5,983.4 269.9,946.0 273.0,987.3 275.1,962.7 276.7,988.1 278.3,950.8 280.5,841.0 281.8,973.8 283.7,947.6 285.8,896.7 287.3,959.5 289.7,969.8 292.1,973.0 294.5,971.4 296.6,922.1 299.3,970.6 300.0,919.0 301.6,981.0 304.8,981.0 307.6,953.9 309.5,981.0 311.4,931.7 314.3,982.6 316.7,947.6 319.1,971.4 322.3,968.2 323.9,966.7 327.3,953.9 329.4,983.4 331.8,960.3 334.2,981.8 338.2,984.1 341.7,957.1 345.3,949.2 347.7,965.1 350.9,974.6 353.3,969.8 355.7,980.2 358.5,971.4 361.2,985.7 363.6,966.7 366.5,985.7 369.2,971.4 372.3,990.5 374.4,965.1 377.1,973.0 379.5,957.1 381.9,958.7 384.3,957.1 385.0,952.3 386.9,978.6 391.0,946.8 393.7,981.0 395.8,958.7 401.7,941.2 407.3,986.5 412.8,943.6 418.1,967.5 423.6,915.0 429.5,950.8 435.6,903.1 440.7,915.8 445.9,919.0 451.5,919.7 457.3,957.1 462.9,925.3 470.0,935.3 476.1,944.9 481.9,909.0 487.5,962.5 493.7,942.3 499.8,952.0 505.9,953.7 511.7,963.3 517.7,978.2 523.4,966.8 526.1,955.5 527.8,969.5 530.4,970.3 532.7,957.2 534.8,980.9 539.2,977.4 543.6,947.6 545.7,980.9 552.3,956.3 556.7,990.5 558.5,977.4 560.4,994.9 562.3,955.5 564.6,982.6 567.2,960.7 569.5,984.4 571.3,980.0 573.0,989.6 574.6,979.1" fill="none" stroke="#a83cc0" stroke-width="1.7" stroke-linejoin="round" stroke-linecap="round"/>
<polyline points="218.4,1478.7 224.9,1473.4 231.9,1476.9 248.5,1477.4 267.8,1487.4 287.1,1497.0 302.9,1498.8 309.0,1494.9 316.5,1505.8 327.0,1476.9 336.9,1479.5 348.7,1470.4 360.0,1471.6 371.4,1469.9 384.6,1471.1 395.1,1469.9 407.3,1467.6 419.6,1472.9 431.9,1469.9 440.0,1470.4 446.2,1471.9 457.9,1479.1 470.3,1470.4 483.4,1485.3 494.6,1470.4 506.5,1476.1 518.9,1471.9 530.6,1467.9 541.8,1467.9 552.9,1472.4 564.1,1471.9 575.3,1491.0 587.7,1485.3 600.1,1465.4" fill="none" stroke="#a83cc0" stroke-width="1.7" stroke-linejoin="round" stroke-linecap="round"/>
<polyline points="214.5,1027.0 217.8,1031.4 220.8,1018.2 224.0,1021.2 226.9,1024.8 229.8,1083.2 232.7,1051.1 235.7,1038.7 237.8,1019.7 241.2,1025.5 244.1,1029.9 246.6,1021.2 249.5,1039.4 252.4,1018.2 255.4,1041.6 259.7,1035.8 264.9,1019.0 269.2,1014.6 273.6,1030.7 277.7,1031.4 283.1,1045.3 287.5,1029.9 292.3,1059.9 295.2,1024.8 298.4,1036.5 302.1,1048.9 305.0,1035.8 307.5,1037.2 308.7,1093.4 311.6,1040.9 313.4,1050.4 316.3,1032.1 318.5,1013.9 320.9,1036.5 323.9,1016.8 326.8,1018.2 329.7,1016.1 332.3,1013.9 335.0,1070.1 337.9,1016.8 341.8,1013.9 344.7,1016.8 348.4,1021.9 352.0,1013.9 357.2,1018.2 361.5,1013.9 365.9,1013.9 371.8,1017.5 377.6,1018.2 382.0,1016.8 390.0,1013.9 424.4,1013.1 434.6,1013.1 437.6,1017.5 443.4,1019.0 449.2,1013.9 485.0,1013.9 516.8,1013.1 520.6,1027.2 524.1,1013.1 557.1,1013.1 566.7,1017.5 574.6,1014.9 579.9,1013.1 585.1,1013.1" fill="none" stroke="#7a6a4f" stroke-width="1.7" stroke-linejoin="round" stroke-linecap="round"/>
<polyline points="294.3,329.0 296.7,366.4 298.8,309.7 301.4,309.7 304.3,348.8 307.2,309.7 311.9,331.9 313.6,319.1 316.5,299.2 321.2,288.1 325.3,283.4 328.8,280.5 341.1,280.5 346.9,295.7 352.2,288.1 356.2,280.5 359.2,280.5 362.1,288.1 365.8,280.5 371.1,286.9 375.2,280.5 379.9,289.3 383.4,280.5 388.6,280.5 392.1,308.5 398.0,280.5 440.0,280.5 505.1,280.5 505.9,279.9 506.3,293.9 506.9,279.9 507.6,322.8 508.5,279.9 509.4,293.9 510.3,279.9 511.6,309.7 512.7,279.9 513.8,293.9 514.6,279.9 515.5,293.9 516.2,280.8 516.8,293.9 517.7,308.3 518.3,280.8 519.0,293.9 519.7,280.8 520.3,293.9 521.2,307.0 521.8,280.8 522.5,293.9 523.4,298.3 524.1,280.8 524.7,293.9 525.3,280.8 526.0,294.8 526.9,279.9 533.0,279.9 533.9,307.0 534.8,279.9 535.6,291.3 536.5,279.9 537.8,295.6 538.7,279.9 549.7,279.9 550.5,289.1 551.4,279.9 565.0,279.9 565.7,291.0 567.5,280.5 568.6,293.4 569.8,298.0 571.0,280.5 575.1,280.5" fill="none" stroke="#e8641e" stroke-width="1.8" stroke-linejoin="round" stroke-linecap="round"/>
<polyline points="214.5,1087.6 217.4,1049.6 220.8,1036.5 223.2,1024.1 226.9,1013.9 229.8,1032.8 232.4,1017.5 238.6,1017.5 241.5,1027.0 244.1,1013.9 247.3,1019.7 249.5,1021.2 252.4,1013.9 259.0,1013.9 264.1,1016.1 269.2,1013.9 273.6,1022.6 278.0,1013.9 283.1,1025.5 292.6,1017.5 297.0,1019.0 299.6,1013.9 302.1,1035.0 304.3,1021.2 306.4,1023.4 308.7,1013.9 311.6,1031.4 313.4,1021.2 317.7,1022.6 320.7,1043.8 322.4,1019.0 324.3,1029.9 326.5,1017.5 329.7,1035.8 332.3,1016.8 335.3,1018.2 338.2,1013.9 341.1,1024.8 344.7,1019.0 348.4,1013.9 352.0,1017.5 356.4,1019.7 360.1,1013.9 364.5,1017.5 368.8,1017.5 373.2,1013.9 383.4,1013.9 390.0,1017.5 393.8,1013.9 409.8,1013.9 415.7,1016.8 423.7,1013.9 430.3,1018.2 434.6,1013.9 437.6,1013.9 441.2,1020.4 444.9,1020.4 447.8,1013.9 452.2,1014.6 458.0,1021.9 461.6,1013.9 475.5,1013.9 479.2,1021.9 482.1,1017.5 485.0,1017.5 489.6,1017.5 493.1,1014.0 500.1,1014.0 503.1,1017.5 506.3,1014.0 541.3,1014.0 544.5,1017.5 547.4,1014.0 551.8,1016.1 555.3,1014.0 565.8,1014.0 572.9,1016.6 580.2,1019.3 585.1,1014.0" fill="none" stroke="#e8641e" stroke-width="1.8" stroke-linejoin="round" stroke-linecap="round"/>
<polyline points="218.4,1510.2 224.9,1489.2 231.9,1487.4 248.5,1493.9 267.8,1490.0 287.1,1487.1 302.9,1486.2 309.0,1518.1 316.5,1533.0 327.0,1528.9 336.4,1476.9 348.7,1481.3 360.0,1481.8 371.4,1483.6 384.6,1471.1 395.1,1476.9 407.3,1484.4 419.6,1486.9 431.9,1473.9 440.0,1477.8 446.2,1479.8 457.9,1473.6 470.3,1486.0 483.4,1481.6 494.6,1486.0 506.5,1484.8 518.9,1473.6 530.6,1489.3 541.8,1472.9 552.9,1484.3 564.1,1487.8 575.3,1475.4 587.7,1476.1 600.1,1462.4" fill="none" stroke="#e8641e" stroke-width="1.8" stroke-linejoin="round" stroke-linecap="round"/>
<polyline points="222.3,1858.4 232.5,1861.3 236.9,1863.5 251.5,1873.0 254.4,1879.6 257.3,1870.1 258.8,1875.9 263.2,1861.3 265.4,1849.6 266.4,1856.9 267.6,1827.7 269.7,1848.2 273.4,1823.4 277.0,1781.0 278.1,1794.2 281.4,1792.0 285.4,1735.8 291.6,1758.4 292.4,1848.2 293.1,1833.6 296.0,1838.0 297.0,1848.2 300.0,1710.9 304.1,1769.3 305.2,1839.4 307.0,1849.6 309.2,1850.4 311.1,1873.0 312.5,1862.8 313.8,1877.4 315.5,1877.4 317.4,1884.7 318.1,1858.4 318.9,1881.8 322.2,1881.8 324.7,1887.6 329.8,1884.7 334.2,1883.2 337.1,1883.9 340.8,1881.8 344.4,1885.4 346.6,1887.6 348.1,1880.3 349.5,1886.9 354.6,1887.3 356.4,1883.2 357.8,1887.6 359.3,1865.7 360.5,1886.1 362.2,1887.6 363.4,1881.8 367.0,1881.0 372.2,1883.9 376.2,1878.1 383.1,1875.9 392.6,1882.5 398.4,1862.8 400.0,1862.8 407.3,1867.2 413.9,1871.5 427.0,1855.5 430.9,1874.2 443.1,1866.4 452.6,1877.4 464.2,1878.8 473.7,1879.6 478.8,1868.6 500.0,1886.9 511.1,1886.7 517.5,1888.3 527.1,1887.1 536.8,1885.9 542.4,1887.8 559.2,1887.8 586.5,1887.8 591.0,1885.9 600.2,1887.8" fill="none" stroke="#e8641e" stroke-width="1.8" stroke-linejoin="round" stroke-linecap="round"/>
<polyline points="264.5,1932.6 265.5,1914.3 266.7,1931.1 267.9,1923.8 269.6,1938.4 271.1,1938.4 272.3,1947.2 274.0,1941.3 275.2,1932.6 276.2,1938.4 277.2,1925.3 278.4,1944.2 279.6,1931.1 281.3,1915.8 282.5,1935.5 283.5,1938.4 285.0,1909.2 286.4,1918.0 287.4,1894.6 288.6,1884.4 289.8,1909.2 290.8,1899.0 292.3,1913.6 293.7,1900.4 295.2,1916.5 296.6,1903.4 298.1,1934.0 299.6,1909.2 301.0,1928.2 302.5,1915.0 303.9,1939.9 305.4,1928.2 306.9,1920.9 308.3,1941.3 309.8,1935.5 311.2,1944.2 312.3,1926.7 313.4,1944.2 316.4,1947.9 319.4,1941.3 322.3,1951.5 326.7,1944.2 328.9,1947.2 334.0,1950.1 340.5,1950.8 345.7,1949.3 347.8,1950.1 350.0,1947.2 355.1,1949.3 361.7,1949.3 368.3,1947.2 388.0,1950.4 396.0,1947.9 402.6,1948.3 408.4,1950.1 410.0,1950.1 414.4,1949.3 420.9,1951.1 428.2,1951.1 434.8,1948.9 437.7,1951.1 446.5,1951.1 468.4,1951.1 472.8,1950.5 477.2,1951.1 497.6,1951.1 503.4,1950.4 505.0,1950.5 512.3,1951.1 590.4,1951.1" fill="none" stroke="#e8641e" stroke-width="1.8" stroke-linejoin="round" stroke-linecap="round"/>
<polyline points="230.5,1984.4 231.4,1979.3 232.4,1996.8 233.1,1990.9 233.9,2008.5 234.6,2065.4 235.3,2039.1 236.1,2066.9 237.2,2046.4 239.0,2049.3 242.6,2058.1 246.3,2071.2 249.2,2074.9 252.4,2066.1 254.7,2074.9 258.0,2062.5 263.5,2035.5 265.5,2067.6 269.6,2058.1 272.6,2026.0 274.0,2047.9 276.2,1985.8 277.2,2001.2 278.4,1980.7 279.9,1995.3 281.0,1980.7 282.5,2009.9 284.2,1982.2 286.4,1967.6 287.6,1990.9 288.9,1973.4 291.2,1939.9 294.5,1967.6 297.1,1963.9 300.0,1986.6 301.5,1985.1 303.9,2005.5 306.1,1973.4 307.6,1998.2 309.3,1992.4 311.2,1985.1 313.4,1982.2 315.6,1986.6 317.5,1967.6 319.3,1992.4 320.1,1979.3 321.1,2009.9 322.3,1999.7 323.5,2009.9 327.8,2058.8 332.8,2058.1 335.4,2064.7 338.4,2068.3 342.0,2077.1 343.9,2061.0 345.7,2063.2 347.1,2060.3 349.3,2072.7 351.8,2074.2 354.7,2079.3 364.6,2037.7 366.8,2065.4 369.7,2059.6 371.9,2062.5 374.1,2053.7 376.3,2055.9 379.2,2061.0 381.9,2027.4 385.1,2026.7 390.9,2036.2 396.8,2028.9 402.3,2028.9 407.0,2057.4 412.1,2067.6 415.8,2060.3 419.9,2053.7 422.4,2066.9 425.8,2058.8 429.3,2040.6 432.6,2050.1 436.3,2060.3 439.2,2038.4 441.8,2041.3 445.0,2055.2 447.7,2045.7 450.1,2024.5 453.1,2026.0 453.8,2053.0 458.9,2035.5 463.3,2056.6 466.2,2058.8 469.1,2028.2 473.5,2012.8 480.8,2009.2 488.8,2028.9 492.0,1996.8 496.1,2040.6 500.5,2073.4 504.2,2073.4 510.0,2081.5 515.9,2085.1 525.4,2085.1 531.3,2082.9 538.6,2082.5 544.4,2082.9 550.3,2080.7 553.9,2084.4 561.2,2085.1 563.1,2083.2 566.3,2084.4 571.4,2085.1 588.2,2085.1" fill="none" stroke="#e8641e" stroke-width="1.8" stroke-linejoin="round" stroke-linecap="round"/>
<polyline points="294.3,427.7 296.7,458.6 299.0,425.3 301.9,474.4 304.3,512.3 307.2,470.9 311.9,495.4 316.5,479.1 321.2,449.9 328.2,419.5 335.2,459.2 341.1,489.6 346.9,427.7 352.2,431.2 355.7,412.5 359.2,431.8 362.1,406.1 364.7,427.7 367.6,440.5 371.1,433.5 374.0,437.0 376.9,446.4 379.9,411.3 382.8,413.6 385.7,371.0 388.0,375.1 392.1,394.4 395.0,342.4 398.0,312.0 400.9,350.6 403.8,325.5 406.7,381.5 409.6,354.1 413.1,370.4 416.1,404.3 417.8,483.1 420.7,413.6 423.6,378.6 426.6,398.5 429.5,398.5 431.8,375.7 434.7,389.1 437.7,382.7 440.8,396.1 443.2,438.2 446.7,450.4 449.6,395.0 452.5,407.2 454.9,376.3 460.7,376.3 463.0,344.7 465.9,345.3 468.3,412.5 471.2,407.8 474.7,413.1 480.0,333.6 483.5,345.3 488.7,316.7 491.6,343.6 494.6,343.6 496.9,351.8 500.4,354.1 502.7,382.1 504.8,350.6 506.0,390.9 508.0,339.5 509.7,352.9 511.5,339.5 513.0,396.1 514.4,335.4 514.9,335.4 516.1,359.9 516.7,324.9 518.4,323.7 519.6,359.9 520.2,344.7 521.4,397.3 522.5,363.4 523.7,398.5 525.4,340.1 527.2,378.6 528.4,351.8 530.7,393.8 533.0,345.9 535.4,358.8 537.1,351.8 538.3,317.3 538.9,380.9 541.2,402.0 543.5,440.5 545.9,412.5 548.8,405.5 549.4,440.5 551.1,388.0 552.9,446.4 554.1,444.0 555.5,378.0 556.6,428.8 558.1,390.3 559.9,373.9 562.8,428.8 564.6,370.4 565.7,350.6 566.9,413.6 568.6,384.5 569.8,447.5 571.0,458.0 572.2,435.8 573.3,440.5 574.5,466.2 575.7,468.5" fill="none" stroke="#0a0a0a" stroke-width="2.25" stroke-linejoin="round" stroke-linecap="round"/>
<polyline points="225.3,909.4 225.8,880.8 229.0,860.9 231.7,888.7 234.6,905.4 237.3,893.5 240.1,863.3 242.8,862.5 245.2,890.3 247.9,838.7 250.8,840.2 253.6,841.8 256.7,897.5 259.0,903.8 261.9,872.0 264.3,876.0 267.5,875.2 270.2,893.5 273.0,834.7 275.4,870.5 276.7,855.3 278.3,902.3 280.5,946.0 282.1,880.0 283.7,919.0 285.8,914.2 287.0,913.4 288.9,829.9 292.4,857.7 295.3,858.5 296.6,909.4 299.3,914.2 300.0,955.5 302.4,901.5 304.8,925.3 308.0,879.2 311.4,930.1 312.7,887.2 316.7,914.2 319.1,869.7 323.9,936.4 326.2,925.3 327.8,927.7 330.2,890.3 333.4,877.6 336.3,847.4 339.0,851.4 341.7,838.7 345.0,858.5 347.4,853.0 350.6,882.4 352.8,863.3 355.7,889.5 358.0,831.5 361.2,818.8 363.6,854.6 366.8,796.5 369.2,793.3 372.3,834.7 374.4,811.6 375.5,863.3 378.7,860.9 380.8,856.9 383.5,870.5 385.0,866.5 386.9,837.9 390.6,868.9 392.2,837.1 393.7,913.4 395.8,853.8 401.7,882.4 407.3,853.0 418.1,834.7 423.6,884.0 429.5,825.9 435.6,861.7 440.7,860.9 445.9,886.4 451.5,891.9 457.3,880.8 462.9,883.2 470.0,874.0 476.1,867.9 481.9,894.1 487.5,876.6 493.7,903.8 499.8,895.9 505.9,851.2 511.7,824.1 517.7,849.5 523.4,784.6 525.7,803.9 527.5,775.0 529.9,779.4 532.7,837.2 534.8,816.2 537.4,812.7 538.3,800.4 541.0,815.3 543.6,817.1 545.3,774.1 548.0,775.9 550.2,777.6 552.3,786.4 553.7,762.7 555.8,775.9 557.6,768.9 559.0,790.8 560.7,764.5 562.5,810.9 564.6,772.4 566.4,815.3 567.8,814.4 569.5,833.7 571.6,802.2 573.0,779.4 574.6,785.5" fill="none" stroke="#0a0a0a" stroke-width="2.0" stroke-linejoin="round" stroke-linecap="round"/>
<polyline points="218.4,1617.1 224.9,1589.0 231.9,1516.0 287.1,1605.3 302.9,1591.3 309.0,1589.5 316.5,1614.8 327.0,1566.2 336.9,1594.8 347.8,1550.5 360.0,1509.3 371.4,1625.8 384.6,1646.0 395.1,1649.5 407.3,1638.1 419.6,1608.8 432.2,1488.3 440.0,1549.3 446.2,1620.1 457.9,1540.6 470.3,1631.2 483.4,1631.7 494.6,1637.4 506.5,1639.9 518.9,1620.8 530.6,1620.8 541.8,1574.1 552.9,1583.6 564.1,1582.1 575.3,1550.1 587.7,1597.7 600.1,1639.9" fill="none" stroke="#0a0a0a" stroke-width="2.0" stroke-linejoin="round" stroke-linecap="round"/>
<polyline points="222.3,1882.5 233.2,1878.1 251.5,1881.0 252.7,1873.0 254.1,1880.3 257.3,1852.6 260.3,1830.7 262.4,1854.0 265.4,1863.5 267.6,1852.6 269.7,1855.5 273.4,1871.5 277.0,1874.5 281.4,1864.2 285.4,1858.4 288.7,1867.2 292.4,1880.3 293.8,1873.0 295.6,1878.8 296.8,1861.3 298.9,1858.4 301.4,1854.0 304.3,1839.4 305.8,1875.9 308.4,1859.9 310.6,1851.1 312.3,1836.5 313.8,1811.7 314.9,1808.8 316.4,1816.1 317.4,1734.3 318.4,1854.0 318.9,1699.3 322.5,1713.9 325.4,1767.9 332.0,1850.4 334.2,1756.2 339.3,1800.0 341.5,1805.8 346.6,1867.2 349.5,1693.4 355.4,1645.3 356.8,1616.1 358.3,1616.8 359.7,1842.3 360.5,1748.9 362.2,1843.8 363.4,1766.4 367.0,1750.4 372.4,1814.6 376.2,1775.2 383.5,1812.4 392.6,1762.0 400.0,1770.1 408.8,1780.3 413.9,1758.4 427.0,1669.8 430.9,1745.7 443.1,1687.6 452.6,1656.9 464.2,1693.4 473.7,1720.9 476.6,1659.9 478.8,1689.3 487.6,1727.0 500.0,1788.3 513.0,1777.5 517.8,1815.2 536.8,1748.5 542.9,1768.6 548.8,1777.5 553.6,1767.8 559.2,1778.3 568.9,1804.0 576.9,1835.3 580.9,1724.5 586.5,1792.7 590.6,1771.0 600.2,1779.1" fill="none" stroke="#0a0a0a" stroke-width="1.8" stroke-linejoin="round" stroke-linecap="round"/>
<polyline points="294.3,344.2 296.7,321.4 298.8,321.4 301.4,350.6 304.3,379.8 307.2,361.7 311.9,381.5 316.5,381.5 321.8,330.7 328.2,316.1 335.2,333.6 341.1,321.4 346.9,335.4 352.2,327.2 356.2,330.7 362.1,292.2 364.7,308.5 367.6,325.5 371.1,319.1 374.0,308.0 379.9,323.1 382.8,317.9 385.7,289.9 388.6,287.5 392.1,310.9 397.4,294.5 400.3,285.2 403.2,281.1 404.4,281.7 407.9,296.9 409.6,302.7 412.6,302.7 414.9,337.7 417.8,326.6 420.1,327.2 423.6,295.7 426.3,305.0 429.5,298.6 432.4,312.0 435.3,316.7 437.7,313.2 440.8,326.6 443.8,316.7 446.7,309.1 449.6,321.4 452.5,320.2 455.4,304.5 460.7,323.1 463.0,287.5 465.9,286.4 468.9,307.4 471.8,297.4 474.7,295.1 477.6,304.5 482.9,298.6 486.4,307.4 489.3,293.9 494.6,301.5 496.9,289.3 500.4,283.4 502.7,288.7 505.7,293.4 507.4,284.0 509.7,299.2 512.1,286.4 513.8,289.9 515.5,303.9 517.3,308.5 519.0,293.4 520.8,299.2 522.5,306.2 524.3,293.4 526.0,307.4 527.8,281.7 530.1,294.5 531.9,281.7 533.6,289.9 535.4,284.0 537.1,293.4 538.3,296.9 539.5,314.4 541.2,307.4 543.5,314.4 545.9,298.6 548.2,313.2 551.1,300.4 552.9,310.9 554.6,301.5 556.4,318.5 558.1,299.2 559.9,314.4 562.2,284.0 564.0,296.9 565.7,288.7 568.1,300.4 570.4,288.7 572.2,293.4 573.3,281.7 575.1,302.7 575.7,317.3" fill="none" stroke="#4caf6c" stroke-width="1.7" stroke-linejoin="round" stroke-linecap="round"/>
<g stroke="#111" stroke-width="1.3" fill="none"><line x1="229.6" y1="3.5" x2="586" y2="3.5"/><line x1="229.6" y1="37.8" x2="586" y2="37.8"/><line x1="237.8" y1="3.5" x2="237.8" y2="37.8"/><line x1="252.5" y1="3.5" x2="252.5" y2="37.8"/><line x1="294.4" y1="3.5" x2="294.4" y2="37.8"/><line x1="310.8" y1="3.5" x2="310.8" y2="37.8"/><line x1="324" y1="3.5" x2="324" y2="37.8"/><line x1="340.4" y1="3.5" x2="340.4" y2="37.8"/><line x1="357.8" y1="3.5" x2="357.8" y2="37.8"/><line x1="439.4" y1="3.5" x2="439.4" y2="37.8"/></g><g font-family="Liberation Sans" font-weight="bold" font-size="17" fill="#111" text-anchor="middle"><text transform="translate(244.8,27.6) scale(1,1.05)">O</text><text transform="translate(272.6,27.6) scale(1,1.05)">BY</text><text transform="translate(302.9,27.6) scale(1,1.05)">R</text><text transform="translate(317.4,27.6) scale(1,1.05)">H</text><text transform="translate(330.9,27.6) scale(1,1.05)">C</text><text transform="translate(348.3,27.6) scale(1,1.05)">I</text><text transform="translate(398.6,27.6) scale(1,1.05)">BA</text><text transform="translate(518.4,27.6) scale(1,1.05)">Neolithic</text></g><g stroke="#111" stroke-width="1.9" fill="none"><polyline points="35.8,74.4 10.6,74.4 10.6,487.3"/><polyline points="10.6,813.1 10.6,1225.5 35.8,1225.5"/><polyline points="35.8,1238 10.4,1238 10.4,1529.8"/><polyline points="10.4,1791.3 10.4,2084.7 35.8,2084.7"/></g><g font-family="Liberation Sans"><text transform="translate(20.2,769.8) rotate(-90) scale(1,1.02)" font-size="24.7" font-weight="bold" fill="#2c2c2c" text-anchor="start" >North Aegean region</text><text transform="translate(20.5,1783.7) rotate(-90) scale(1,1.02)" font-size="24.8" font-weight="bold" fill="#2c2c2c" text-anchor="start" >South Aegean region</text><text transform="translate(82.8,445.6) rotate(-90) scale(1,1.04)" font-size="24.5" font-weight="bold" fill="#2c2c2c" text-anchor="start" >Tenaghi Philippon</text><text transform="translate(82.8,788.4) rotate(-90) scale(1,1.04)" font-size="24.5" font-weight="bold" fill="#2c2c2c" text-anchor="start" >M51/3 SI152</text><text transform="translate(82.8,1147.7) rotate(-90) scale(1,1.04)" font-size="24.5" font-weight="bold" fill="#2c2c2c" text-anchor="start" >Dojran</text><text transform="translate(82.8,1488.6) rotate(-90) scale(1,1.04)" font-size="24.5" font-weight="bold" fill="#2c2c2c" text-anchor="start" >EF-AR2</text><text transform="translate(82.8,1778.7) rotate(-90) scale(1,1.04)" font-size="24.5" font-weight="bold" fill="#2c2c2c" text-anchor="start" >Belevi</text><text transform="translate(82.8,1962.9) rotate(-90) scale(1,1.04)" font-size="24.5" font-weight="bold" fill="#2c2c2c" text-anchor="start" >Voulkaria</text><text transform="translate(82.8,2073.7) rotate(-90) scale(1,1.04)" font-size="24.5" font-weight="bold" fill="#2c2c2c" text-anchor="start" >Kournas</text><text transform="translate(128.3,297.5) rotate(-90) scale(1.119,1.05)" font-size="19.6" fill="#2c2c2c">XRF-based Pb/Zr (x10<tspan font-size="11" dy="-8">-3</tspan><tspan dy="8" dx="0.6">)</tspan></text><text transform="translate(128.3,751.1) rotate(-90) scale(1.119,1.05)" font-size="19.6" fill="#2c2c2c">XRF-based Pb/Zr (x10<tspan font-size="11" dy="-8">-3</tspan><tspan dy="8" dx="0.6">)</tspan></text><text transform="translate(128.3,1451.1) rotate(-90) scale(1.119,1.05)" font-size="19.6" fill="#2c2c2c">XRF-based Pb/Zr (x10<tspan font-size="11" dy="-8">-3</tspan><tspan dy="8" dx="0.6">)</tspan></text></g><g stroke="#2b2b2b" stroke-width="1.3" fill="none"><line x1="183.3" y1="74.5" x2="183.3" y2="270.5"/><line x1="170.8" y1="74.5" x2="183.3" y2="74.5"/><line x1="170.8" y1="123.7" x2="183.3" y2="123.7"/><line x1="170.8" y1="172.7" x2="183.3" y2="172.7"/><line x1="170.8" y1="221.7" x2="183.3" y2="221.7"/><line x1="170.8" y1="270.5" x2="183.3" y2="270.5"/></g><g font-family="Liberation Sans" font-size="20.3" fill="#2c2c2c" text-anchor="end"><text transform="translate(159.8,80.8) scale(1,1.05)">16</text><text transform="translate(159.8,127.9) scale(1,1.05)">12</text><text transform="translate(159.8,177.8) scale(1,1.05)">8</text><text transform="translate(159.8,225.5) scale(1,1.05)">4</text><text transform="translate(159.8,276.4) scale(1,1.05)">0</text></g><g stroke="#2b2b2b" stroke-width="1.3" fill="none"><line x1="237.7" y1="277.5" x2="237.7" y2="379.9"/><line x1="225.2" y1="277.5" x2="237.7" y2="277.5"/><line x1="225.2" y1="328.8" x2="237.7" y2="328.8"/><line x1="225.2" y1="379.9" x2="237.7" y2="379.9"/></g><g font-family="Liberation Sans" font-size="20.3" fill="#2c2c2c" text-anchor="end"><text transform="translate(217.2,285.9) scale(1,1.05)">0</text><text transform="translate(216.1,385.7) scale(1,1.05)">20</text></g><text transform="translate(188.5,336.6) scale(1,1.05)" font-family="Liberation Sans" font-size="20.3" fill="#2c2c2c">%</text><g stroke="#2b2b2b" stroke-width="1.3" fill="none"><line x1="621.5" y1="328.5" x2="621.5" y2="532.0"/><line x1="621.5" y1="328.5" x2="634.0" y2="328.5"/><line x1="621.5" y1="379.3" x2="634.0" y2="379.3"/><line x1="621.5" y1="430.3" x2="634.0" y2="430.3"/><line x1="621.5" y1="481.3" x2="634.0" y2="481.3"/><line x1="621.5" y1="532.0" x2="634.0" y2="532.0"/></g><g font-family="Liberation Sans" font-size="20.3" fill="#2c2c2c" text-anchor="start"><text transform="translate(638.3,335.8) scale(1,1.05)">60</text><text transform="translate(638.3,437.9) scale(1,1.05)">40 %</text><text transform="translate(638.3,537.6) scale(1,1.05)">20</text></g><g stroke="#2b2b2b" stroke-width="1.3" fill="none"><line x1="183.4" y1="530.2" x2="183.4" y2="723.8"/><line x1="170.9" y1="530.2" x2="183.4" y2="530.2"/><line x1="170.9" y1="578.6" x2="183.4" y2="578.6"/><line x1="170.9" y1="627.1" x2="183.4" y2="627.1"/><line x1="170.9" y1="675.5" x2="183.4" y2="675.5"/><line x1="170.9" y1="723.8" x2="183.4" y2="723.8"/></g><g font-family="Liberation Sans" font-size="20.3" fill="#2c2c2c" text-anchor="end"><text transform="translate(159.8,537.2) scale(1,1.05)">16</text><text transform="translate(159.8,584.4) scale(1,1.05)">12</text><text transform="translate(159.8,632.9) scale(1,1.05)">8</text><text transform="translate(159.8,679.1) scale(1,1.05)">4</text><text transform="translate(159.8,729.1) scale(1,1.05)">0</text></g><g stroke="#2b2b2b" stroke-width="1.3" fill="none"><line x1="621.4" y1="697.9" x2="621.4" y2="1002.2"/><line x1="621.4" y1="697.9" x2="633.9" y2="697.9"/><line x1="621.4" y1="733.8" x2="633.9" y2="733.8"/><line x1="621.4" y1="771.7" x2="633.9" y2="771.7"/><line x1="621.4" y1="806.8" x2="633.9" y2="806.8"/><line x1="621.4" y1="849.5" x2="633.9" y2="849.5"/><line x1="621.4" y1="885.5" x2="633.9" y2="885.5"/><line x1="621.4" y1="923.5" x2="633.9" y2="923.5"/><line x1="621.4" y1="958.8" x2="633.9" y2="958.8"/><line x1="621.4" y1="1002.2" x2="633.9" y2="1002.2"/></g><g font-family="Liberation Sans" font-size="20.3" fill="#2c2c2c" text-anchor="start"><text transform="translate(638.4,705.2) scale(1,1.05)">80</text><text transform="translate(638.4,779.0) scale(1,1.05)">60</text><text transform="translate(638.4,858.1) scale(1,1.05)">40 %</text><text transform="translate(638.4,931.9) scale(1,1.05)">20</text><text transform="translate(638.4,1008.7) scale(1,1.05)">0</text></g><g stroke="#2b2b2b" stroke-width="1.3" fill="none"><line x1="184.0" y1="1014.2" x2="184.0" y2="1112.6"/><line x1="171.5" y1="1014.2" x2="184.0" y2="1014.2"/><line x1="171.5" y1="1063.4" x2="184.0" y2="1063.4"/><line x1="171.5" y1="1112.6" x2="184.0" y2="1112.6"/></g><g font-family="Liberation Sans" font-size="20.3" fill="#2c2c2c" text-anchor="end"><text transform="translate(159.9,1024.7) scale(1,1.05)">0</text><text transform="translate(159.9,1069.6) scale(1,1.05)">2</text><text transform="translate(159.9,1115.7) scale(1,1.05)">4</text></g><text transform="translate(113.2,1069.8999999999999) scale(1,1.05)" font-family="Liberation Sans" font-size="20.3" fill="#2c2c2c">%</text><g stroke="#2b2b2b" stroke-width="1.3" fill="none"><line x1="621.4" y1="1064.4" x2="621.4" y2="1218.1"/><line x1="621.4" y1="1064.4" x2="633.9" y2="1064.4"/><line x1="621.4" y1="1102.6" x2="633.9" y2="1102.6"/><line x1="621.4" y1="1141.0" x2="633.9" y2="1141.0"/><line x1="621.4" y1="1179.6" x2="633.9" y2="1179.6"/><line x1="621.4" y1="1218.1" x2="633.9" y2="1218.1"/></g><g font-family="Liberation Sans" font-size="20.3" fill="#2c2c2c" text-anchor="start"><text transform="translate(638.6,1071.3) scale(1,1.05)">40</text><text transform="translate(638.6,1147.0) scale(1,1.05)">20 %</text><text transform="translate(638.6,1223.1) scale(1,1.05)">0</text></g><g stroke="#2b2b2b" stroke-width="1.3" fill="none"><line x1="183.3" y1="1234.2" x2="183.3" y2="1428.0"/><line x1="170.8" y1="1234.2" x2="183.3" y2="1234.2"/><line x1="170.8" y1="1282.8" x2="183.3" y2="1282.8"/><line x1="170.8" y1="1331.0" x2="183.3" y2="1331.0"/><line x1="170.8" y1="1379.6" x2="183.3" y2="1379.6"/><line x1="170.8" y1="1428.0" x2="183.3" y2="1428.0"/></g><g font-family="Liberation Sans" font-size="20.3" fill="#2c2c2c" text-anchor="end"><text transform="translate(159.9,1240.7) scale(1,1.05)">20</text><text transform="translate(159.9,1283.8) scale(1,1.05)">16</text><text transform="translate(159.9,1336.9) scale(1,1.05)">12</text><text transform="translate(159.9,1385.6) scale(1,1.05)">8</text><text transform="translate(159.9,1432.4) scale(1,1.05)">4</text></g><g stroke="#2b2b2b" stroke-width="1.3" fill="none"><line x1="183.3" y1="1463.6" x2="183.3" y2="1538.3"/><line x1="170.8" y1="1463.6" x2="183.3" y2="1463.6"/><line x1="170.8" y1="1500.5" x2="183.3" y2="1500.5"/><line x1="170.8" y1="1538.3" x2="183.3" y2="1538.3"/></g><g font-family="Liberation Sans" font-size="20.3" fill="#2c2c2c" text-anchor="end"><text transform="translate(159.9,1472.7) scale(1,1.05)">0</text><text transform="translate(159.3,1545.6) scale(1,1.05)">20</text></g><text transform="translate(113.2,1517.3999999999999) scale(1,1.05)" font-family="Liberation Sans" font-size="20.3" fill="#2c2c2c">%</text><g stroke="#2b2b2b" stroke-width="1.3" fill="none"><line x1="621.2" y1="1515.1" x2="621.2" y2="1666.8"/><line x1="621.2" y1="1515.1" x2="633.7" y2="1515.1"/><line x1="621.2" y1="1552.5" x2="633.7" y2="1552.5"/><line x1="621.2" y1="1590.4" x2="633.7" y2="1590.4"/><line x1="621.2" y1="1628.9" x2="633.7" y2="1628.9"/><line x1="621.2" y1="1666.8" x2="633.7" y2="1666.8"/></g><g font-family="Liberation Sans" font-size="20.3" fill="#2c2c2c" text-anchor="start"><text transform="translate(638.6,1522.1) scale(1,1.05)">40</text><text transform="translate(638.6,1597.5) scale(1,1.05)">20 %</text><text transform="translate(638.6,1673.6) scale(1,1.05)">0</text></g><g stroke="#2b2b2b" stroke-width="1.3" fill="none"><line x1="183.6" y1="1617.8" x2="183.6" y2="1886.2"/><line x1="171.1" y1="1617.8" x2="183.6" y2="1617.8"/><line x1="171.1" y1="1655.9" x2="183.6" y2="1655.9"/><line x1="171.1" y1="1690.8" x2="183.6" y2="1690.8"/><line x1="171.1" y1="1733.7" x2="183.6" y2="1733.7"/><line x1="171.1" y1="1769.6" x2="183.6" y2="1769.6"/><line x1="171.1" y1="1807.5" x2="183.6" y2="1807.5"/><line x1="171.1" y1="1842.8" x2="183.6" y2="1842.8"/><line x1="171.1" y1="1886.2" x2="183.6" y2="1886.2"/></g><g font-family="Liberation Sans" font-size="20.3" fill="#2c2c2c" text-anchor="end"><text transform="translate(159.5,1648.2) scale(1,1.05)">60</text><text transform="translate(159.3,1741.2) scale(1,1.05)">40</text><text transform="translate(159.3,1814.8) scale(1,1.05)">20</text><text transform="translate(159.3,1894.5) scale(1,1.05)">0</text></g><text transform="translate(114.4,1740.8999999999999) scale(1,1.05)" font-family="Liberation Sans" font-size="20.3" fill="#2c2c2c">%</text><g stroke="#2b2b2b" stroke-width="1.3" fill="none"><line x1="620.8" y1="1892.6" x2="620.8" y2="1950.4"/><line x1="620.8" y1="1892.6" x2="633.3" y2="1892.6"/><line x1="620.8" y1="1950.4" x2="633.3" y2="1950.4"/></g><g font-family="Liberation Sans" font-size="20.3" fill="#2c2c2c" text-anchor="start"><text transform="translate(638.6,1896.6) scale(1,1.05)">20 %</text><text transform="translate(638.6,1955.9) scale(1,1.05)">0</text></g><g stroke="#2b2b2b" stroke-width="1.3" fill="none"><line x1="183.6" y1="1966.8" x2="183.6" y2="2084.7"/><line x1="171.1" y1="1966.8" x2="183.6" y2="1966.8"/><line x1="171.1" y1="2005.3" x2="183.6" y2="2005.3"/><line x1="171.1" y1="2040.4" x2="183.6" y2="2040.4"/><line x1="171.1" y1="2084.7" x2="183.6" y2="2084.7"/></g><g font-family="Liberation Sans" font-size="20.3" fill="#2c2c2c" text-anchor="end"><text transform="translate(159.3,2013.4) scale(1,1.05)">20</text><text transform="translate(159.3,2091.6) scale(1,1.05)">0</text></g><text transform="translate(114.4,2013.1) scale(1,1.05)" font-family="Liberation Sans" font-size="20.3" fill="#2c2c2c">%</text><g stroke="#2b2b2b" stroke-width="1.3"><line x1="213.0" y1="2091.2" x2="591.2" y2="2091.2"/><line x1="213.60" y1="2091.2" x2="213.60" y2="2103.6"/><line x1="226.09" y1="2091.2" x2="226.09" y2="2099.6"/><line x1="237.19" y1="2091.2" x2="237.19" y2="2103.6"/><line x1="249.68" y1="2091.2" x2="249.68" y2="2099.6"/><line x1="260.77" y1="2091.2" x2="260.77" y2="2103.6"/><line x1="273.27" y1="2091.2" x2="273.27" y2="2099.6"/><line x1="284.36" y1="2091.2" x2="284.36" y2="2103.6"/><line x1="296.86" y1="2091.2" x2="296.86" y2="2099.6"/><line x1="307.95" y1="2091.2" x2="307.95" y2="2103.6"/><line x1="320.44" y1="2091.2" x2="320.44" y2="2099.6"/><line x1="331.54" y1="2091.2" x2="331.54" y2="2103.6"/><line x1="344.03" y1="2091.2" x2="344.03" y2="2099.6"/><line x1="355.12" y1="2091.2" x2="355.12" y2="2103.6"/><line x1="367.62" y1="2091.2" x2="367.62" y2="2099.6"/><line x1="378.71" y1="2091.2" x2="378.71" y2="2103.6"/><line x1="391.21" y1="2091.2" x2="391.21" y2="2099.6"/><line x1="402.30" y1="2091.2" x2="402.30" y2="2103.6"/><line x1="414.79" y1="2091.2" x2="414.79" y2="2099.6"/><line x1="425.89" y1="2091.2" x2="425.89" y2="2103.6"/><line x1="438.38" y1="2091.2" x2="438.38" y2="2099.6"/><line x1="449.48" y1="2091.2" x2="449.48" y2="2103.6"/><line x1="461.97" y1="2091.2" x2="461.97" y2="2099.6"/><line x1="473.06" y1="2091.2" x2="473.06" y2="2103.6"/><line x1="485.56" y1="2091.2" x2="485.56" y2="2099.6"/><line x1="496.65" y1="2091.2" x2="496.65" y2="2103.6"/><line x1="509.14" y1="2091.2" x2="509.14" y2="2099.6"/><line x1="520.24" y1="2091.2" x2="520.24" y2="2103.6"/><line x1="532.73" y1="2091.2" x2="532.73" y2="2099.6"/><line x1="543.83" y1="2091.2" x2="543.83" y2="2103.6"/><line x1="556.32" y1="2091.2" x2="556.32" y2="2099.6"/><line x1="567.41" y1="2091.2" x2="567.41" y2="2103.6"/><line x1="579.91" y1="2091.2" x2="579.91" y2="2099.6"/><line x1="591.00" y1="2091.2" x2="591.00" y2="2103.6"/></g><g font-family="Liberation Sans" font-size="22" fill="#111" text-anchor="middle"><text transform="translate(216.1,2128.6) scale(1,1.04)">0</text><text transform="translate(308.1,2128.6) scale(1,1.04)">2000</text><text transform="translate(400.0,2128.6) scale(1,1.04)">4000</text><text transform="translate(495.0,2128.6) scale(1,1.04)">6000</text><text transform="translate(592.0,2128.6) scale(1,1.04)">8000</text><text font-size="21" transform="translate(404,2162.2) scale(1.06,1.045)">(cal. years BP)</text></g><g stroke-width="2.6" stroke-linecap="round"><line x1="463.4" y1="1232.4" x2="488" y2="1232.4" stroke="#0a0a0a"/><line x1="463.4" y1="1255.5" x2="488" y2="1255.5" stroke="#4caf6c"/><line x1="463.4" y1="1278.1" x2="488" y2="1278.1" stroke="#a832b8"/><line x1="463.4" y1="1299.4" x2="488" y2="1299.4" stroke="#e8601c"/><line x1="463.4" y1="1320.5" x2="488" y2="1320.5" stroke="#7a6a4f"/></g><g font-family="Liberation Sans" font-style="italic" font-size="22.2"><text x="498.4" y="1237.8" fill="#222">Quercus</text><text x="498.4" y="1262.0" fill="#4caf6c">Pinus</text><text x="498.4" y="1283.8" fill="#a832b8">Abies</text><text x="498.4" y="1307.0" fill="#e8601c">Olea</text><text x="498.4" y="1327.4" fill="#7a6a4f">Cerealia</text></g>
<line x1="312.6" y1="41.75" x2="312.6" y2="2090" stroke="#111" stroke-width="2.5" stroke-dasharray="1.8 8.029" stroke-linecap="round"/>
</svg>
</body></html>
